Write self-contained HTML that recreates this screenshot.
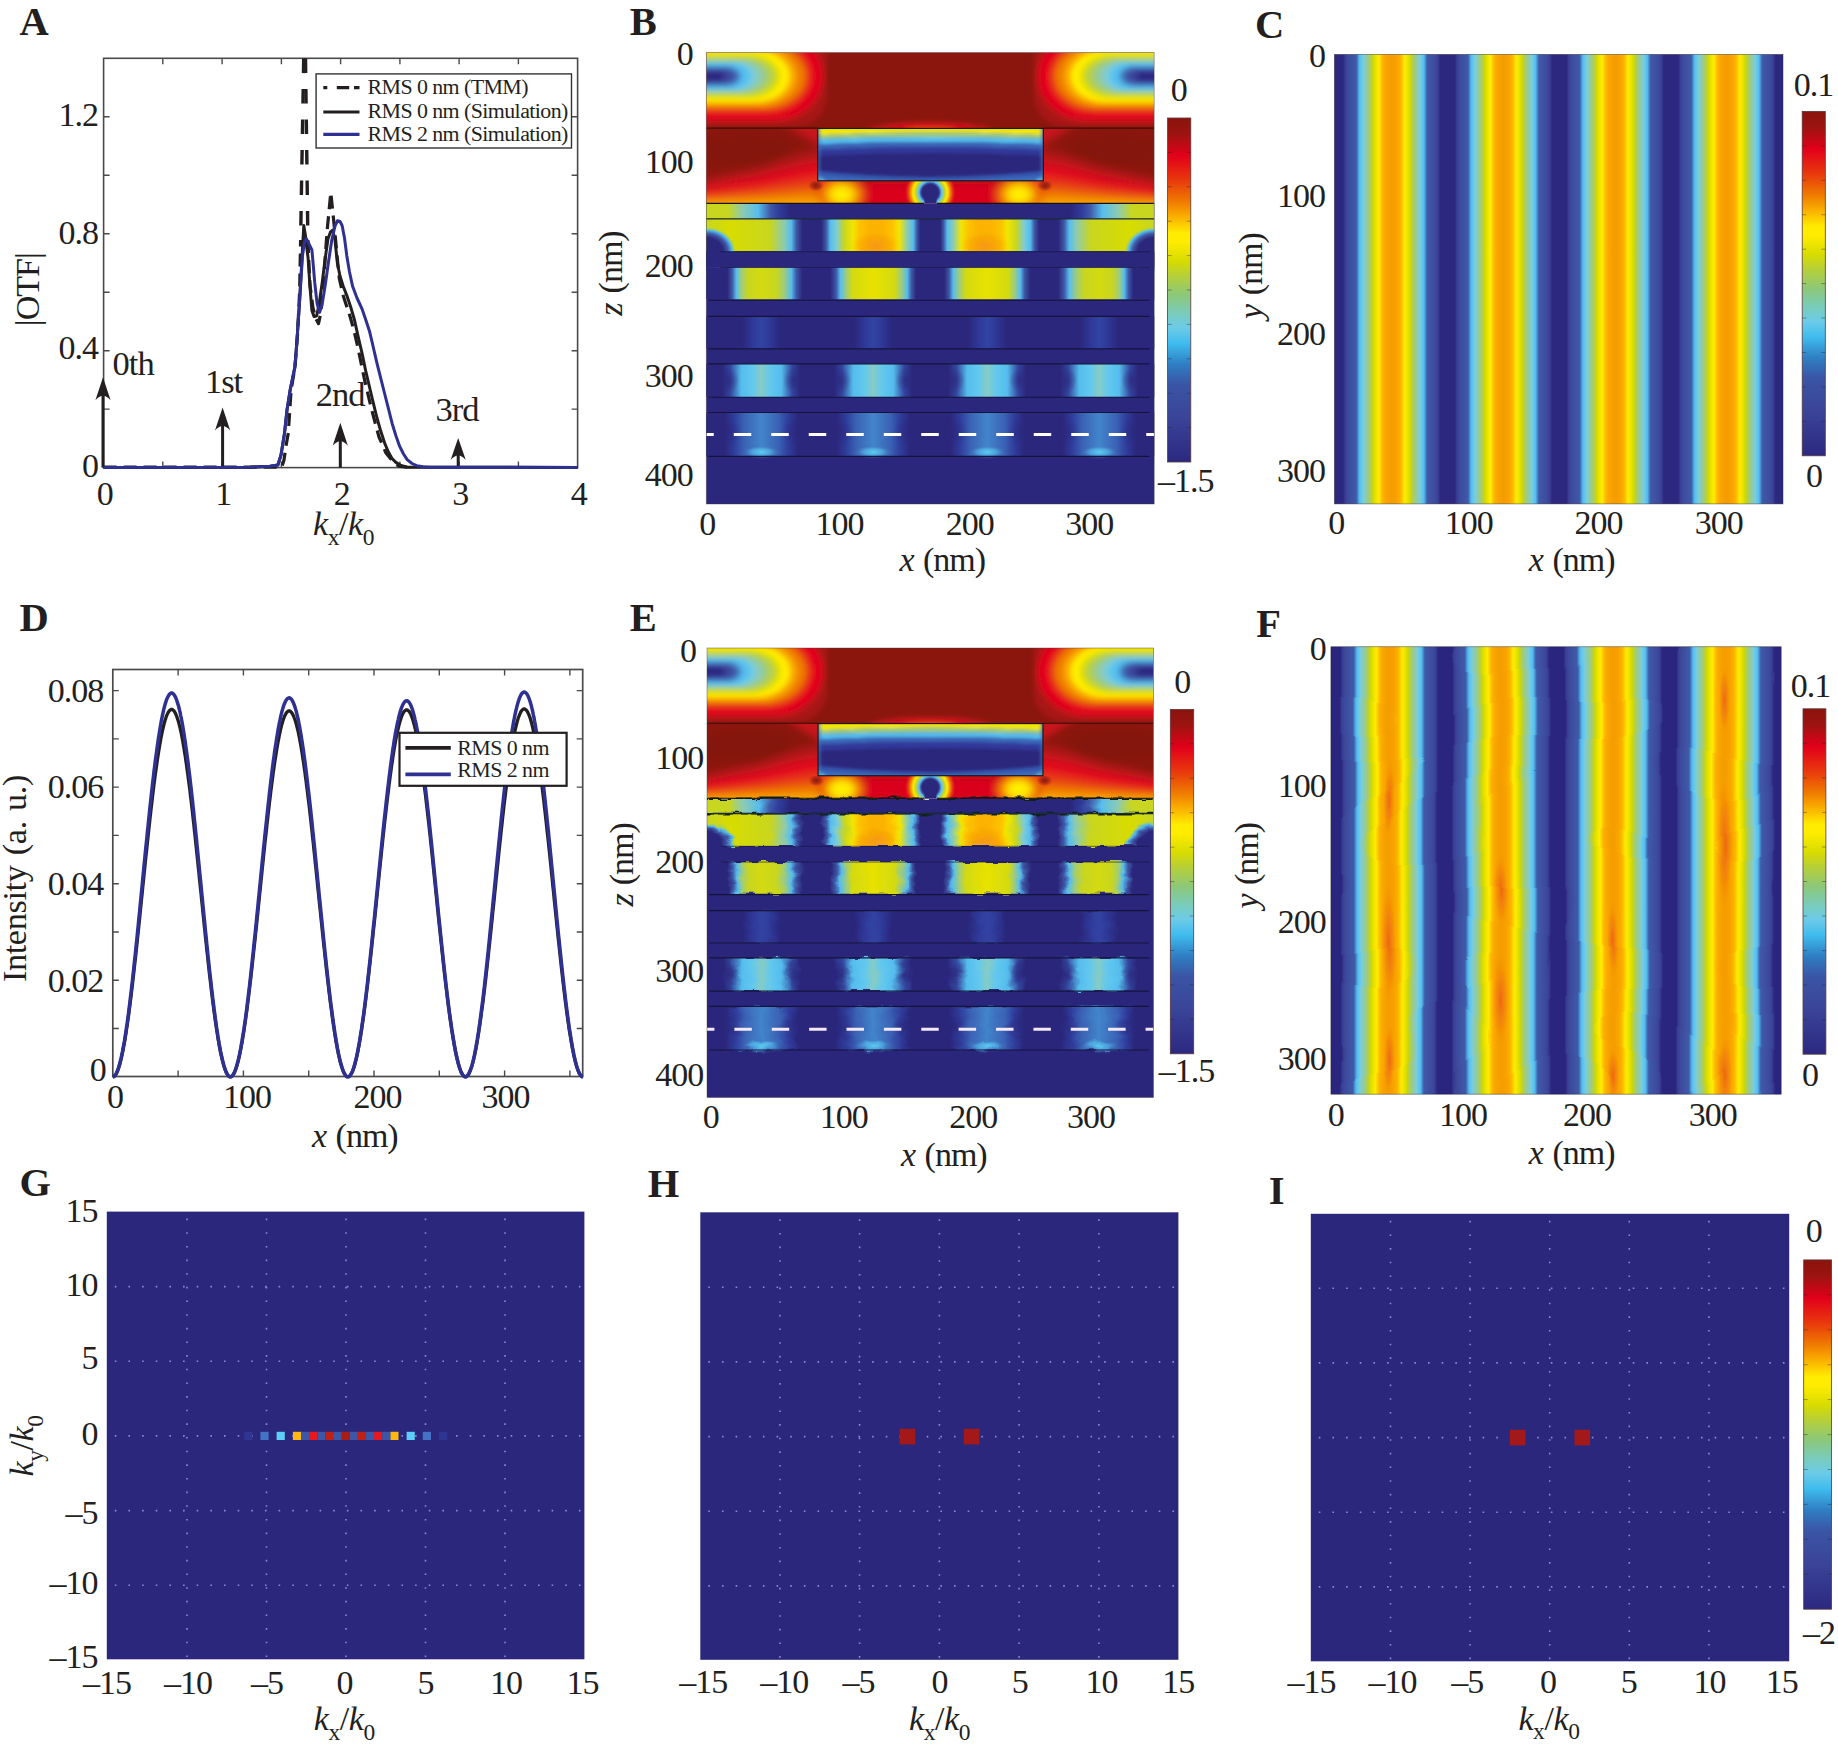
<!DOCTYPE html>
<html><head><meta charset="utf-8"><title>Figure</title>
<style>html,body{margin:0;padding:0;background:#fff}svg{display:block}text{font-family:"Liberation Serif", serif;fill:#231f20}</style>
</head><body>
<svg width="1838" height="1748" viewBox="0 0 1838 1748">
<defs>
<linearGradient id="jet" x1="0" y1="0" x2="0" y2="1"><stop offset="0" stop-color="#8a130e"/><stop offset="0.045" stop-color="#9b1410"/><stop offset="0.11" stop-color="#e2001a"/><stop offset="0.18" stop-color="#e8380d"/><stop offset="0.245" stop-color="#f07d00"/><stop offset="0.295" stop-color="#fbb900"/><stop offset="0.335" stop-color="#ffec00"/><stop offset="0.36" stop-color="#ffec00"/><stop offset="0.415" stop-color="#d8dc00"/><stop offset="0.46" stop-color="#b5cf3a"/><stop offset="0.515" stop-color="#8cc87a"/><stop offset="0.565" stop-color="#7accb8"/><stop offset="0.61" stop-color="#6ccbe8"/><stop offset="0.655" stop-color="#3fbcee"/><stop offset="0.715" stop-color="#2f7fc4"/><stop offset="0.775" stop-color="#3a55a5"/><stop offset="0.87" stop-color="#3a4498"/><stop offset="1" stop-color="#2c2880"/></linearGradient>
<linearGradient id="sC" x1="1335.85" y1="0" x2="1391.7" y2="0" gradientUnits="userSpaceOnUse" spreadMethod="reflect"><stop offset="0" stop-color="#2c2880"/><stop offset="0.13" stop-color="#2c2880"/><stop offset="0.17" stop-color="#3a3f96"/><stop offset="0.22" stop-color="#3e4a9d"/><stop offset="0.365" stop-color="#3f5aa8"/><stop offset="0.39" stop-color="#4585c6"/><stop offset="0.423" stop-color="#55bdee"/><stop offset="0.46" stop-color="#62c8ee"/><stop offset="0.493" stop-color="#7dccd8"/><stop offset="0.54" stop-color="#8dcbb0"/><stop offset="0.588" stop-color="#9fcc7c"/><stop offset="0.635" stop-color="#b8d044"/><stop offset="0.663" stop-color="#cfd800"/><stop offset="0.71" stop-color="#e8e200"/><stop offset="0.769" stop-color="#ffec00"/><stop offset="0.798" stop-color="#ffd500"/><stop offset="0.833" stop-color="#fdb800"/><stop offset="0.867" stop-color="#fbab00"/><stop offset="0.93" stop-color="#f7a100"/><stop offset="1" stop-color="#f59c00"/></linearGradient>
<linearGradient id="sF" x1="1333.3" y1="0" x2="1389.3" y2="0" gradientUnits="userSpaceOnUse" spreadMethod="reflect"><stop offset="0" stop-color="#2c2880"/><stop offset="0.13" stop-color="#2c2880"/><stop offset="0.17" stop-color="#3a3f96"/><stop offset="0.22" stop-color="#3e4a9d"/><stop offset="0.365" stop-color="#3f5aa8"/><stop offset="0.39" stop-color="#4585c6"/><stop offset="0.423" stop-color="#55bdee"/><stop offset="0.46" stop-color="#62c8ee"/><stop offset="0.493" stop-color="#7dccd8"/><stop offset="0.54" stop-color="#8dcbb0"/><stop offset="0.588" stop-color="#9fcc7c"/><stop offset="0.635" stop-color="#b8d044"/><stop offset="0.663" stop-color="#cfd800"/><stop offset="0.71" stop-color="#e8e200"/><stop offset="0.769" stop-color="#ffec00"/><stop offset="0.798" stop-color="#ffd500"/><stop offset="0.833" stop-color="#fdb800"/><stop offset="0.867" stop-color="#fbab00"/><stop offset="0.93" stop-color="#f7a100"/><stop offset="1" stop-color="#f59c00"/></linearGradient>
<clipPath id="cF"><rect x="1330.9" y="646.7" width="450.3" height="447.5"/></clipPath>
<filter id="wavy" filterUnits="userSpaceOnUse" x="1290" y="600" width="540" height="540"><feTurbulence type="fractalNoise" baseFrequency="0.008 0.016" numOctaves="1" seed="11" result="n"/><feDisplacementMap in="SourceGraphic" in2="n" scale="4.5" xChannelSelector="R" yChannelSelector="G"/></filter>
<radialGradient id="hot" cx="0.5" cy="0.5" r="0.5"><stop offset="0" stop-color="#ec5a10" stop-opacity="0.8"/><stop offset="0.55" stop-color="#f07310" stop-opacity="0.45"/><stop offset="1" stop-color="#f59c00" stop-opacity="0"/></radialGradient>
<clipPath id="hmclip"><rect x="706.3" y="52.5" width="447.9" height="451.5"/></clipPath>
<radialGradient id="boL" cx="706.3" cy="77.5" r="1" gradientUnits="userSpaceOnUse" gradientTransform="translate(706.3 77.5) scale(126 54) translate(-706.3 -77.5)"><stop offset="0" stop-color="#ffec00"/><stop offset="0.5" stop-color="#ffec00"/><stop offset="0.6" stop-color="#fdc300"/><stop offset="0.7" stop-color="#ef7d00"/><stop offset="0.8" stop-color="#e8380d"/><stop offset="0.87" stop-color="#e2001a"/><stop offset="0.94" stop-color="#b8191a"/><stop offset="1" stop-color="#8a130e"/></radialGradient>
<radialGradient id="biL" cx="706.3" cy="77.5" r="1" gradientUnits="userSpaceOnUse" gradientTransform="translate(706.3 77.5) scale(84 25) translate(-706.3 -77.5)"><stop offset="0" stop-color="#2e2b82"/><stop offset="0.22" stop-color="#3a3f96"/><stop offset="0.36" stop-color="#3f5aa8"/><stop offset="0.47" stop-color="#55bdee"/><stop offset="0.58" stop-color="#86cdb5"/><stop offset="0.72" stop-color="#c8d620"/><stop offset="0.88" stop-color="#f2e600"/><stop offset="1" stop-color="#ffec00" stop-opacity="0"/></radialGradient>
<radialGradient id="boR" cx="1154.2" cy="77.5" r="1" gradientUnits="userSpaceOnUse" gradientTransform="translate(1154.2 77.5) scale(126 54) translate(-1154.2 -77.5)"><stop offset="0" stop-color="#ffec00"/><stop offset="0.5" stop-color="#ffec00"/><stop offset="0.6" stop-color="#fdc300"/><stop offset="0.7" stop-color="#ef7d00"/><stop offset="0.8" stop-color="#e8380d"/><stop offset="0.87" stop-color="#e2001a"/><stop offset="0.94" stop-color="#b8191a"/><stop offset="1" stop-color="#8a130e"/></radialGradient>
<radialGradient id="biR" cx="1154.2" cy="77.5" r="1" gradientUnits="userSpaceOnUse" gradientTransform="translate(1154.2 77.5) scale(84 25) translate(-1154.2 -77.5)"><stop offset="0" stop-color="#2e2b82"/><stop offset="0.22" stop-color="#3a3f96"/><stop offset="0.36" stop-color="#3f5aa8"/><stop offset="0.47" stop-color="#55bdee"/><stop offset="0.58" stop-color="#86cdb5"/><stop offset="0.72" stop-color="#c8d620"/><stop offset="0.88" stop-color="#f2e600"/><stop offset="1" stop-color="#ffec00" stop-opacity="0"/></radialGradient>
<radialGradient id="arc" cx="930.25" cy="130" r="1" gradientUnits="userSpaceOnUse" gradientTransform="translate(930.25 130) scale(95 17) translate(-930.25 -130)"><stop offset="0" stop-color="#f07d00"/><stop offset="0.35" stop-color="#e2001a"/><stop offset="0.7" stop-color="#c0121a"/><stop offset="1" stop-color="#8a130e" stop-opacity="0"/></radialGradient>
<linearGradient id="sideV" x1="0" y1="0" x2="0" y2="1"><stop offset="0" stop-color="#8a130e"/><stop offset="0.42" stop-color="#8a130e"/><stop offset="0.66" stop-color="#c0121a"/><stop offset="0.8" stop-color="#e2001a"/><stop offset="0.92" stop-color="#e8380d"/><stop offset="1" stop-color="#ef7d00"/></linearGradient>
<linearGradient id="rectV" x1="0" y1="0" x2="0" y2="1"><stop offset="0" stop-color="#2f3690"/><stop offset="0.5" stop-color="#2b277c"/><stop offset="1" stop-color="#2b277c"/></linearGradient>
<linearGradient id="underV" x1="0" y1="0" x2="0" y2="1"><stop offset="0" stop-color="#c9181a"/><stop offset="0.3" stop-color="#e2001a"/><stop offset="1" stop-color="#e8271e"/></linearGradient>
<radialGradient id="yblob" cx="0.5" cy="0.5" r="0.5"><stop offset="0" stop-color="#fff000"/><stop offset="0.35" stop-color="#ffec00"/><stop offset="0.6" stop-color="#f9a800"/><stop offset="0.8" stop-color="#e8380d" stop-opacity="0.8"/><stop offset="1" stop-color="#e2001a" stop-opacity="0"/></radialGradient>
<radialGradient id="cblob" cx="0.5" cy="0.5" r="0.5"><stop offset="0" stop-color="#2b277c"/><stop offset="0.31" stop-color="#2b277c"/><stop offset="0.37" stop-color="#3f5aa8"/><stop offset="0.43" stop-color="#55bdee"/><stop offset="0.5" stop-color="#8dcbb0"/><stop offset="0.56" stop-color="#c8d620"/><stop offset="0.66" stop-color="#ffec00"/><stop offset="0.78" stop-color="#ef7d00"/><stop offset="0.9" stop-color="#e6251b" stop-opacity="0.8"/><stop offset="1" stop-color="#e2001a" stop-opacity="0"/></radialGradient>
<radialGradient id="dspot" cx="0.5" cy="0.5" r="0.5"><stop offset="0" stop-color="#80150f" stop-opacity="0.9"/><stop offset="0.5" stop-color="#8c1712" stop-opacity="0.6"/><stop offset="1" stop-color="#c0121a" stop-opacity="0"/></radialGradient>
<clipPath id="cSide"><path d="M706.3 128.4H817.7V203.6H706.3ZM1043.3 128.4H1154.2V203.6H1043.3ZM817 180.8H1044V203.6H817Z"/></clipPath>
<clipPath id="cRect"><rect x="817.7" y="128.4" width="225.6" height="52.4"/></clipPath>
<filter id="blur5" filterUnits="userSpaceOnUse" x="600" y="0" width="660" height="320"><feGaussianBlur stdDeviation="4"/></filter>
<filter id="blur3" filterUnits="userSpaceOnUse" x="600" y="0" width="660" height="320"><feGaussianBlur stdDeviation="2.8"/></filter>
<filter id="blur2" filterUnits="userSpaceOnUse" x="780" y="100" width="300" height="120"><feGaussianBlur stdDeviation="1.6"/></filter>
<clipPath id="cTop"><rect x="706.3" y="52.5" width="447.9" height="75.9"/></clipPath>
<clipPath id="cUnder"><rect x="706.3" y="181" width="447.9" height="22.6"/></clipPath>
<linearGradient id="nearL" x1="0" y1="0" x2="1" y2="0"><stop offset="0" stop-color="#e2001a" stop-opacity="0"/><stop offset="1" stop-color="#c8121a" stop-opacity="0.85"/></linearGradient>
<linearGradient id="nearR" x1="0" y1="0" x2="1" y2="0"><stop offset="0" stop-color="#c8121a" stop-opacity="0.85"/><stop offset="1" stop-color="#e2001a" stop-opacity="0"/></linearGradient>
<linearGradient id="fadeL" x1="0" y1="0" x2="1" y2="0"><stop offset="0" stop-color="#e2001a" stop-opacity="0"/><stop offset="1" stop-color="#d8081a" stop-opacity="1"/></linearGradient>
<linearGradient id="fadeR" x1="0" y1="0" x2="1" y2="0"><stop offset="0" stop-color="#d8081a" stop-opacity="1"/><stop offset="1" stop-color="#e2001a" stop-opacity="0"/></linearGradient>
<linearGradient id="rectH" x1="0" y1="0" x2="1" y2="0"><stop offset="0" stop-color="#4a7fc8" stop-opacity="0.55"/><stop offset="0.05" stop-color="#3a5db0" stop-opacity="0"/><stop offset="0.95" stop-color="#3a5db0" stop-opacity="0"/><stop offset="1" stop-color="#4a7fc8" stop-opacity="0.55"/></linearGradient>
<radialGradient id="cyc" cx="0.5" cy="0.5" r="0.5"><stop offset="0" stop-color="#b8dc6a"/><stop offset="0.5" stop-color="#55bdee" stop-opacity="0.8"/><stop offset="1" stop-color="#3f5aa8" stop-opacity="0"/></radialGradient>
<linearGradient id="band1" x1="706.3" y1="0" x2="1154.2" y2="0" gradientUnits="userSpaceOnUse"><stop offset="-0.0001" stop-color="#c8d620"/><stop offset="0.049" stop-color="#c8d620"/><stop offset="0.0803" stop-color="#8dcbb0"/><stop offset="0.116" stop-color="#55bdee"/><stop offset="0.1428" stop-color="#3f5aa8"/><stop offset="0.1606" stop-color="#2f3d9c"/><stop offset="0.1874" stop-color="#2b277c"/><stop offset="0.5" stop-color="#2b277c"/><stop offset="0.8126" stop-color="#2b277c"/><stop offset="0.8394" stop-color="#2f3d9c"/><stop offset="0.8572" stop-color="#3f5aa8"/><stop offset="0.884" stop-color="#55bdee"/><stop offset="0.9197" stop-color="#8dcbb0"/><stop offset="0.951" stop-color="#c8d620"/><stop offset="1.0001" stop-color="#c8d620"/></linearGradient>
<linearGradient id="lay1" x1="706.3" y1="0" x2="1154.2" y2="0" gradientUnits="userSpaceOnUse"><stop offset="-0.0001" stop-color="#c8d620"/><stop offset="0.0535" stop-color="#d8dc00"/><stop offset="0.1428" stop-color="#c8d620"/><stop offset="0.174" stop-color="#8dcbb0"/><stop offset="0.1897" stop-color="#55bdee"/><stop offset="0.2008" stop-color="#3f5aa8"/><stop offset="0.2142" stop-color="#2b277c"/><stop offset="0.2566" stop-color="#2b277c"/><stop offset="0.2678" stop-color="#3f5aa8"/><stop offset="0.2767" stop-color="#55bdee"/><stop offset="0.2901" stop-color="#7dccd8"/><stop offset="0.308" stop-color="#c8d620"/><stop offset="0.3281" stop-color="#f2e600"/><stop offset="0.3415" stop-color="#fdc300"/><stop offset="0.366" stop-color="#fbb200"/><stop offset="0.3928" stop-color="#fbb200"/><stop offset="0.4152" stop-color="#fdc300"/><stop offset="0.4308" stop-color="#f2e600"/><stop offset="0.4486" stop-color="#8dcbb0"/><stop offset="0.462" stop-color="#55bdee"/><stop offset="0.4699" stop-color="#3f5aa8"/><stop offset="0.4777" stop-color="#2b277c"/><stop offset="0.5" stop-color="#2b277c"/><stop offset="0.5223" stop-color="#2b277c"/><stop offset="0.5301" stop-color="#3f5aa8"/><stop offset="0.538" stop-color="#55bdee"/><stop offset="0.5514" stop-color="#8dcbb0"/><stop offset="0.5692" stop-color="#f2e600"/><stop offset="0.5848" stop-color="#fdc300"/><stop offset="0.6072" stop-color="#fbb200"/><stop offset="0.634" stop-color="#fbb200"/><stop offset="0.6585" stop-color="#fdc300"/><stop offset="0.6719" stop-color="#f2e600"/><stop offset="0.692" stop-color="#c8d620"/><stop offset="0.7099" stop-color="#7dccd8"/><stop offset="0.7233" stop-color="#55bdee"/><stop offset="0.7322" stop-color="#3f5aa8"/><stop offset="0.7434" stop-color="#2b277c"/><stop offset="0.7858" stop-color="#2b277c"/><stop offset="0.7992" stop-color="#3f5aa8"/><stop offset="0.8103" stop-color="#55bdee"/><stop offset="0.826" stop-color="#8dcbb0"/><stop offset="0.8572" stop-color="#c8d620"/><stop offset="0.9465" stop-color="#d8dc00"/><stop offset="1.0001" stop-color="#c8d620"/></linearGradient>
<linearGradient id="lay2" x1="706.3" y1="0" x2="1154.2" y2="0" gradientUnits="userSpaceOnUse"><stop offset="-0.0001" stop-color="#2b277c"/><stop offset="0.0468" stop-color="#2b277c"/><stop offset="0.0579" stop-color="#3f5aa8"/><stop offset="0.0669" stop-color="#55bdee"/><stop offset="0.078" stop-color="#9fcc7c"/><stop offset="0.0937" stop-color="#c8d620"/><stop offset="0.1227" stop-color="#d4da10"/><stop offset="0.1562" stop-color="#c8d620"/><stop offset="0.174" stop-color="#9fcc7c"/><stop offset="0.1897" stop-color="#55bdee"/><stop offset="0.2008" stop-color="#3f5aa8"/><stop offset="0.2142" stop-color="#2b277c"/><stop offset="0.2767" stop-color="#2b277c"/><stop offset="0.2901" stop-color="#3f5aa8"/><stop offset="0.2991" stop-color="#55bdee"/><stop offset="0.3125" stop-color="#9fcc7c"/><stop offset="0.3259" stop-color="#d4da10"/><stop offset="0.3727" stop-color="#e8e200"/><stop offset="0.4196" stop-color="#d4da10"/><stop offset="0.4353" stop-color="#9fcc7c"/><stop offset="0.4486" stop-color="#55bdee"/><stop offset="0.4576" stop-color="#3f5aa8"/><stop offset="0.4687" stop-color="#2b277c"/><stop offset="0.5" stop-color="#2b277c"/><stop offset="0.5313" stop-color="#2b277c"/><stop offset="0.5424" stop-color="#3f5aa8"/><stop offset="0.5514" stop-color="#55bdee"/><stop offset="0.5647" stop-color="#9fcc7c"/><stop offset="0.5804" stop-color="#d4da10"/><stop offset="0.6273" stop-color="#e8e200"/><stop offset="0.6741" stop-color="#d4da10"/><stop offset="0.6875" stop-color="#9fcc7c"/><stop offset="0.7009" stop-color="#55bdee"/><stop offset="0.7099" stop-color="#3f5aa8"/><stop offset="0.7233" stop-color="#2b277c"/><stop offset="0.7858" stop-color="#2b277c"/><stop offset="0.7992" stop-color="#3f5aa8"/><stop offset="0.8103" stop-color="#55bdee"/><stop offset="0.826" stop-color="#9fcc7c"/><stop offset="0.8438" stop-color="#c8d620"/><stop offset="0.8773" stop-color="#d4da10"/><stop offset="0.9063" stop-color="#c8d620"/><stop offset="0.922" stop-color="#9fcc7c"/><stop offset="0.9331" stop-color="#55bdee"/><stop offset="0.9421" stop-color="#3f5aa8"/><stop offset="0.9532" stop-color="#2b277c"/><stop offset="1.0001" stop-color="#2b277c"/></linearGradient>
<linearGradient id="lay3" x1="706.3" y1="0" x2="1154.2" y2="0" gradientUnits="userSpaceOnUse"><stop offset="-0.0001" stop-color="#2b277c"/><stop offset="0.0803" stop-color="#2b277c"/><stop offset="0.1071" stop-color="#2f3b9b"/><stop offset="0.1227" stop-color="#3243a2"/><stop offset="0.1383" stop-color="#2f3b9b"/><stop offset="0.1651" stop-color="#2b277c"/><stop offset="0.3303" stop-color="#2b277c"/><stop offset="0.3571" stop-color="#2f3b9b"/><stop offset="0.3727" stop-color="#3243a2"/><stop offset="0.3884" stop-color="#2f3b9b"/><stop offset="0.4152" stop-color="#2b277c"/><stop offset="0.5" stop-color="#2b277c"/><stop offset="0.5848" stop-color="#2b277c"/><stop offset="0.6116" stop-color="#2f3b9b"/><stop offset="0.6273" stop-color="#3243a2"/><stop offset="0.6429" stop-color="#2f3b9b"/><stop offset="0.6697" stop-color="#2b277c"/><stop offset="0.8349" stop-color="#2b277c"/><stop offset="0.8617" stop-color="#2f3b9b"/><stop offset="0.8773" stop-color="#3243a2"/><stop offset="0.8929" stop-color="#2f3b9b"/><stop offset="0.9197" stop-color="#2b277c"/><stop offset="1.0001" stop-color="#2b277c"/></linearGradient>
<linearGradient id="lay4" x1="706.3" y1="0" x2="1154.2" y2="0" gradientUnits="userSpaceOnUse"><stop offset="-0.0001" stop-color="#2b277c"/><stop offset="0.0356" stop-color="#2b277c"/><stop offset="0.0535" stop-color="#33459f"/><stop offset="0.0669" stop-color="#4585c6"/><stop offset="0.078" stop-color="#55bdee"/><stop offset="0.1026" stop-color="#62c8ee"/><stop offset="0.1227" stop-color="#86ccc4"/><stop offset="0.1428" stop-color="#62c8ee"/><stop offset="0.1673" stop-color="#55bdee"/><stop offset="0.1785" stop-color="#4585c6"/><stop offset="0.1919" stop-color="#33459f"/><stop offset="0.2098" stop-color="#2b277c"/><stop offset="0.2857" stop-color="#2b277c"/><stop offset="0.3035" stop-color="#33459f"/><stop offset="0.3169" stop-color="#4585c6"/><stop offset="0.3281" stop-color="#55bdee"/><stop offset="0.3526" stop-color="#62c8ee"/><stop offset="0.3727" stop-color="#86ccc4"/><stop offset="0.3928" stop-color="#62c8ee"/><stop offset="0.4174" stop-color="#55bdee"/><stop offset="0.4286" stop-color="#4585c6"/><stop offset="0.442" stop-color="#33459f"/><stop offset="0.4598" stop-color="#2b277c"/><stop offset="0.5" stop-color="#2b277c"/><stop offset="0.5402" stop-color="#2b277c"/><stop offset="0.558" stop-color="#33459f"/><stop offset="0.5714" stop-color="#4585c6"/><stop offset="0.5826" stop-color="#55bdee"/><stop offset="0.6072" stop-color="#62c8ee"/><stop offset="0.6273" stop-color="#86ccc4"/><stop offset="0.6474" stop-color="#62c8ee"/><stop offset="0.6719" stop-color="#55bdee"/><stop offset="0.6831" stop-color="#4585c6"/><stop offset="0.6965" stop-color="#33459f"/><stop offset="0.7143" stop-color="#2b277c"/><stop offset="0.7902" stop-color="#2b277c"/><stop offset="0.8081" stop-color="#33459f"/><stop offset="0.8215" stop-color="#4585c6"/><stop offset="0.8327" stop-color="#55bdee"/><stop offset="0.8572" stop-color="#62c8ee"/><stop offset="0.8773" stop-color="#86ccc4"/><stop offset="0.8974" stop-color="#62c8ee"/><stop offset="0.922" stop-color="#55bdee"/><stop offset="0.9331" stop-color="#4585c6"/><stop offset="0.9465" stop-color="#33459f"/><stop offset="0.9644" stop-color="#2b277c"/><stop offset="1.0001" stop-color="#2b277c"/></linearGradient>
<linearGradient id="lay5" x1="706.3" y1="0" x2="1154.2" y2="0" gradientUnits="userSpaceOnUse"><stop offset="-0.0001" stop-color="#2b277c"/><stop offset="0.0401" stop-color="#2b277c"/><stop offset="0.0624" stop-color="#2f3d9c"/><stop offset="0.0847" stop-color="#3a62b5"/><stop offset="0.1227" stop-color="#4285cc"/><stop offset="0.1606" stop-color="#3a62b5"/><stop offset="0.183" stop-color="#2f3d9c"/><stop offset="0.2053" stop-color="#2b277c"/><stop offset="0.2901" stop-color="#2b277c"/><stop offset="0.3125" stop-color="#2f3d9c"/><stop offset="0.3348" stop-color="#3a62b5"/><stop offset="0.3727" stop-color="#4285cc"/><stop offset="0.4107" stop-color="#3a62b5"/><stop offset="0.433" stop-color="#2f3d9c"/><stop offset="0.4553" stop-color="#2b277c"/><stop offset="0.5" stop-color="#2b277c"/><stop offset="0.5447" stop-color="#2b277c"/><stop offset="0.567" stop-color="#2f3d9c"/><stop offset="0.5893" stop-color="#3a62b5"/><stop offset="0.6273" stop-color="#4285cc"/><stop offset="0.6652" stop-color="#3a62b5"/><stop offset="0.6875" stop-color="#2f3d9c"/><stop offset="0.7099" stop-color="#2b277c"/><stop offset="0.7947" stop-color="#2b277c"/><stop offset="0.817" stop-color="#2f3d9c"/><stop offset="0.8394" stop-color="#3a62b5"/><stop offset="0.8773" stop-color="#4285cc"/><stop offset="0.9153" stop-color="#3a62b5"/><stop offset="0.9376" stop-color="#2f3d9c"/><stop offset="0.9599" stop-color="#2b277c"/><stop offset="1.0001" stop-color="#2b277c"/></linearGradient>
<radialGradient id="oblob" cx="0.5" cy="0.5" r="0.5"><stop offset="0" stop-color="#f7941d" stop-opacity="0.9"/><stop offset="0.6" stop-color="#f7a100" stop-opacity="0.5"/><stop offset="1" stop-color="#fdc300" stop-opacity="0"/></radialGradient>
<radialGradient id="cornerB" cx="0.5" cy="0.5" r="0.5"><stop offset="0" stop-color="#2b277c"/><stop offset="0.55" stop-color="#2b277c"/><stop offset="0.72" stop-color="#3f5aa8"/><stop offset="0.86" stop-color="#55bdee"/><stop offset="1" stop-color="#c8d620" stop-opacity="0"/></radialGradient>
<radialGradient id="cyspot" cx="0.5" cy="0.5" r="0.5"><stop offset="0" stop-color="#5fd0f0" stop-opacity="0.95"/><stop offset="0.5" stop-color="#55bdee" stop-opacity="0.6"/><stop offset="1" stop-color="#3f5aa8" stop-opacity="0"/></radialGradient>
<radialGradient id="navpinch" cx="0.5" cy="0.5" r="0.5"><stop offset="0" stop-color="#2b277c" stop-opacity="0.7"/><stop offset="0.5" stop-color="#2b277c" stop-opacity="0.35"/><stop offset="1" stop-color="#2b277c" stop-opacity="0"/></radialGradient>
<linearGradient id="l1top" x1="0" y1="0" x2="0" y2="1"><stop offset="0" stop-color="#f2e600" stop-opacity="0.55"/><stop offset="0.4" stop-color="#f2e600" stop-opacity="0"/></linearGradient>
<g id="hmTop"><rect x="706.3" y="52.5" width="447.9" height="151" fill="#8a130e"/>
<g clip-path="url(#cTop)"><g filter="url(#blur3)">
<rect x="646.3" y="-7.5" width="567.9" height="260" fill="#8a130e"/>
<path d="M646.3 26.299999999999997H796.5A30 30 0 0 1 826.5 56.3V96.3A30 30 0 0 1 796.5 126.3H646.3Z" fill="#a81318"/>
<path d="M646.3 30.0H774.6A49.4 46.3 0 0 1 774.6 122.6H646.3Z" fill="#c8121a"/>
<path d="M646.3 33.3H773.1A48.4 43 0 0 1 773.1 119.3H646.3Z" fill="#e2001a"/>
<path d="M646.3 38.8H768.2A44.8 37.5 0 0 1 768.2 113.8H646.3Z" fill="#e6251b"/>
<path d="M646.3 41.699999999999996H765.9A43.1 34.6 0 0 1 765.9 110.9H646.3Z" fill="#e84e0f"/>
<path d="M646.3 44.4H763.5A41.5 31.9 0 0 1 763.5 108.19999999999999H646.3Z" fill="#ef7d00"/>
<path d="M646.3 47.0H758.9A38.1 29.3 0 0 1 758.9 105.6H646.3Z" fill="#f9a800"/>
<path d="M646.3 50.3H754.8A35.2 26 0 0 1 754.8 102.3H646.3Z" fill="#ffec00"/>
<path d="M646.3 54.3H749.0A31.0 22 0 0 1 749.0 98.3H646.3Z" fill="#d8dc00"/>
<path d="M646.3 57.3H746.1A28.9 19 0 0 1 746.1 95.3H646.3Z" fill="#b8d044"/>
<path d="M646.3 59.3H742.7A26.3 17 0 0 1 742.7 93.3H646.3Z" fill="#9fcc7c"/>
<path d="M646.3 60.699999999999996H739.2A23.8 15.6 0 0 1 739.2 91.89999999999999H646.3Z" fill="#8dcbb0"/>
<path d="M646.3 61.8H735.7A21.3 14.5 0 0 1 735.7 90.8H646.3Z" fill="#7dccd8"/>
<path d="M646.3 62.699999999999996H732.8A19.2 13.6 0 0 1 732.8 89.89999999999999H646.3Z" fill="#62c8ee"/>
<path d="M646.3 63.5H730.5A17.5 12.8 0 0 1 730.5 89.1H646.3Z" fill="#55bdee"/>
<path d="M646.3 66.1H726.4A14.6 10.2 0 0 1 726.4 86.5H646.3Z" fill="#4585c6"/>
<path d="M646.3 68.1H724.1A12.9 8.2 0 0 1 724.1 84.5H646.3Z" fill="#3f5aa8"/>
<path d="M646.3 69.7H721.8A11.2 6.6 0 0 1 721.8 82.89999999999999H646.3Z" fill="#3e4a9d"/>
<path d="M646.3 70.89999999999999H719.5A9.5 5.4 0 0 1 719.5 81.7H646.3Z" fill="#3a3f96"/>
<path d="M646.3 72.1H716.6A7.4 4.2 0 0 1 716.6 80.5H646.3Z" fill="#2c2880"/>
<path d="M1214.2 26.299999999999997H1064.0A30 30 0 0 0 1034.0 56.3V96.3A30 30 0 0 0 1064.0 126.3H1214.2Z" fill="#a81318"/>
<path d="M1214.2 30.0H1085.9A49.4 46.3 0 0 0 1085.9 122.6H1214.2Z" fill="#c8121a"/>
<path d="M1214.2 33.3H1087.4A48.4 43 0 0 0 1087.4 119.3H1214.2Z" fill="#e2001a"/>
<path d="M1214.2 38.8H1092.3A44.8 37.5 0 0 0 1092.3 113.8H1214.2Z" fill="#e6251b"/>
<path d="M1214.2 41.699999999999996H1094.6A43.1 34.6 0 0 0 1094.6 110.9H1214.2Z" fill="#e84e0f"/>
<path d="M1214.2 44.4H1097.0A41.5 31.9 0 0 0 1097.0 108.19999999999999H1214.2Z" fill="#ef7d00"/>
<path d="M1214.2 47.0H1101.6A38.1 29.3 0 0 0 1101.6 105.6H1214.2Z" fill="#f9a800"/>
<path d="M1214.2 50.3H1105.7A35.2 26 0 0 0 1105.7 102.3H1214.2Z" fill="#ffec00"/>
<path d="M1214.2 54.3H1111.5A31.0 22 0 0 0 1111.5 98.3H1214.2Z" fill="#d8dc00"/>
<path d="M1214.2 57.3H1114.4A28.9 19 0 0 0 1114.4 95.3H1214.2Z" fill="#b8d044"/>
<path d="M1214.2 59.3H1117.8A26.3 17 0 0 0 1117.8 93.3H1214.2Z" fill="#9fcc7c"/>
<path d="M1214.2 60.699999999999996H1121.3A23.8 15.6 0 0 0 1121.3 91.89999999999999H1214.2Z" fill="#8dcbb0"/>
<path d="M1214.2 61.8H1124.8A21.3 14.5 0 0 0 1124.8 90.8H1214.2Z" fill="#7dccd8"/>
<path d="M1214.2 62.699999999999996H1127.7A19.2 13.6 0 0 0 1127.7 89.89999999999999H1214.2Z" fill="#62c8ee"/>
<path d="M1214.2 63.5H1130.0A17.5 12.8 0 0 0 1130.0 89.1H1214.2Z" fill="#55bdee"/>
<path d="M1214.2 66.1H1134.1A14.6 10.2 0 0 0 1134.1 86.5H1214.2Z" fill="#4585c6"/>
<path d="M1214.2 68.1H1136.4A12.9 8.2 0 0 0 1136.4 84.5H1214.2Z" fill="#3f5aa8"/>
<path d="M1214.2 69.7H1138.7A11.2 6.6 0 0 0 1138.7 82.89999999999999H1214.2Z" fill="#3e4a9d"/>
<path d="M1214.2 70.89999999999999H1141.0A9.5 5.4 0 0 0 1141.0 81.7H1214.2Z" fill="#3a3f96"/>
<path d="M1214.2 72.1H1143.9A7.4 4.2 0 0 0 1143.9 80.5H1214.2Z" fill="#2c2880"/>
<ellipse cx="930.25" cy="131" rx="62" ry="9" fill="#c0121a"/><ellipse cx="930.25" cy="131" rx="44" ry="6" fill="#e2001a"/><ellipse cx="930.25" cy="131" rx="26" ry="3.5" fill="#e84e0f"/>
</g></g>
<g clip-path="url(#cSide)"><g filter="url(#blur5)">
<rect x="646.3" y="70" width="567.9" height="200" fill="#8a130e"/>
<path d="M640.0 178 L706.0 178 L760.0 166 L800.0 152 L838.0 143 L838.0 240 L640.0 240Z" fill="#a81318"/>
<path d="M640.0 183 L706.0 183 L760.0 172 L800.0 160 L838.0 152 L838.0 240 L640.0 240Z" fill="#c8121a"/>
<path d="M640.0 188 L706.0 188 L760.0 178 L800.0 168 L838.0 162 L838.0 240 L640.0 240Z" fill="#e2001a"/>
<path d="M640.0 192.5 L706.0 192.5 L760.0 184.5 L800.0 176 L838.0 170 L838.0 240 L640.0 240Z" fill="#e6251b"/>
<path d="M640.0 196 L706.0 196 L760.0 190 L800.0 184 L838.0 181 L838.0 240 L640.0 240Z" fill="#e84e0f"/>
<path d="M640.0 199 L706.0 199 L760.0 195.5 L800.0 191.5 L838.0 190 L838.0 240 L640.0 240Z" fill="#ef7d00"/>
<path d="M640.0 201.8 L706.0 201.8 L760.0 200.8 L800.0 199.5 L838.0 199 L838.0 240 L640.0 240Z" fill="#f9a800"/>
<path d="M778 120H830V152Z" fill="#c8121a"/>
<ellipse cx="745" cy="150" rx="45" ry="14" fill="#84120c"/>
<path d="M1220.5 178 L1154.5 178 L1100.5 166 L1060.5 152 L1022.5 143 L1022.5 240 L1220.5 240Z" fill="#a81318"/>
<path d="M1220.5 183 L1154.5 183 L1100.5 172 L1060.5 160 L1022.5 152 L1022.5 240 L1220.5 240Z" fill="#c8121a"/>
<path d="M1220.5 188 L1154.5 188 L1100.5 178 L1060.5 168 L1022.5 162 L1022.5 240 L1220.5 240Z" fill="#e2001a"/>
<path d="M1220.5 192.5 L1154.5 192.5 L1100.5 184.5 L1060.5 176 L1022.5 170 L1022.5 240 L1220.5 240Z" fill="#e6251b"/>
<path d="M1220.5 196 L1154.5 196 L1100.5 190 L1060.5 184 L1022.5 181 L1022.5 240 L1220.5 240Z" fill="#e84e0f"/>
<path d="M1220.5 199 L1154.5 199 L1100.5 195.5 L1060.5 191.5 L1022.5 190 L1022.5 240 L1220.5 240Z" fill="#ef7d00"/>
<path d="M1220.5 201.8 L1154.5 201.8 L1100.5 200.8 L1060.5 199.5 L1022.5 199 L1022.5 240 L1220.5 240Z" fill="#f9a800"/>
<path d="M1082.5 120H1030.5V152Z" fill="#c8121a"/>
<ellipse cx="1115.5" cy="150" rx="45" ry="14" fill="#84120c"/>
<rect x="856" y="170" width="148.5" height="60" fill="#da061a"/>
<rect x="850" y="170" width="160.5" height="14" fill="#bc0e18"/>
<ellipse cx="841.5" cy="194.5" rx="24" ry="17" fill="#e84e0f"/>
<ellipse cx="841.5" cy="194.5" rx="20" ry="14.5" fill="#ef7d00"/>
<ellipse cx="841.5" cy="194.5" rx="16" ry="12" fill="#f9a800"/>
<ellipse cx="841.5" cy="194.5" rx="12" ry="9" fill="#ffec00"/>
<ellipse cx="841.5" cy="194.5" rx="7" ry="5" fill="#fff000"/>
<ellipse cx="1019.0" cy="194.5" rx="24" ry="17" fill="#e84e0f"/>
<ellipse cx="1019.0" cy="194.5" rx="20" ry="14.5" fill="#ef7d00"/>
<ellipse cx="1019.0" cy="194.5" rx="16" ry="12" fill="#f9a800"/>
<ellipse cx="1019.0" cy="194.5" rx="12" ry="9" fill="#ffec00"/>
<ellipse cx="1019.0" cy="194.5" rx="7" ry="5" fill="#fff000"/>
</g></g>
<g clip-path="url(#cUnder)">
<circle cx="930.25" cy="192.5" r="26" fill="url(#cblob)"/>
<rect x="924.5" y="196" width="12" height="9" fill="#2b277c"/>
<ellipse cx="816" cy="185.5" rx="8" ry="6" fill="url(#dspot)"/>
<ellipse cx="1045" cy="185.5" rx="8" ry="6" fill="url(#dspot)"/>
</g>
<rect x="817.7" y="128.4" width="225.6" height="52.4" fill="url(#rectV)"/>
<g clip-path="url(#cRect)"><g filter="url(#blur2)">
<path d="M810 127V135.6Q930.25 129 1051 135.6V127Z" fill="#f2e600"/>
<path d="M810 135.6Q930.25 129 1051 135.6V139.2Q930.25 134.8 810 139.2Z" fill="#9fcc7c"/>
<path d="M810 139.2Q930.25 134.8 1051 139.2V144.5Q930.25 139.5 810 144.5Z" fill="#55bdee"/>
<path d="M810 144.5Q930.25 139.5 1051 144.5V150Q930.25 144 810 150Z" fill="#3a63b5"/>
<path d="M810 150Q930.25 144 1051 150V156Q930.25 150 810 156Z" fill="#30399a"/>
<path d="M810 185V170Q930.25 184 1051 170V185Z" fill="#3556ad"/>
<path d="M810 185V175Q930.25 186 1051 175V185Z" fill="#3d6cbd"/>
<path d="M812 186V171L832 186Z" fill="#55bdee"/><path d="M1049 186V171L1029 186Z" fill="#55bdee"/>
<path d="M814 184V176L824 184Z" fill="#d0dc3a"/><path d="M1047 184V176L1037 184Z" fill="#d0dc3a"/>
<rect x="812" y="125" width="8.5" height="60" fill="#3f6fbe" fill-opacity="0.6"/><rect x="1040.5" y="125" width="8.5" height="60" fill="#3f6fbe" fill-opacity="0.6"/>
</g></g>
<rect x="817.7" y="128.4" width="225.6" height="52.4" fill="none" stroke="#15151a" stroke-width="1.1"/>
<path d="M706.3 128.1H817.7M1043.3 128.1H1154.2" stroke="#3a0c0a" stroke-width="1.1" fill="none"/></g>
<g id="hmLay"><rect x="666.3" y="203" width="527.9" height="341" fill="#2b277c"/>
<rect x="666.3" y="203.4" width="527.9" height="15.5" fill="url(#band1)"/>
<rect x="666.3" y="218.9" width="527.9" height="32.6" fill="url(#lay1)"/>
<ellipse cx="875.75" cy="246" rx="26" ry="17" fill="url(#oblob)"/>
<ellipse cx="984.75" cy="246" rx="26" ry="17" fill="url(#oblob)"/>
<rect x="666.3" y="251.5" width="527.9" height="16" fill="#2b277c"/>
<ellipse cx="706.3" cy="251.5" rx="30" ry="25" fill="url(#cornerB)"/><ellipse cx="1154.2" cy="251.5" rx="30" ry="25" fill="url(#cornerB)"/>
<rect x="666.3" y="251.5" width="527.9" height="16" fill="#2b277c"/>
<rect x="666.3" y="267.5" width="527.9" height="31.8" fill="url(#lay2)"/>
<rect x="666.3" y="316.3" width="527.9" height="32.5" fill="url(#lay3)"/>
<rect x="666.3" y="363.8" width="527.9" height="33.2" fill="url(#lay4)"/>
<rect x="666.3" y="412.5" width="527.9" height="43.8" fill="url(#lay5)"/>
<ellipse cx="728.2" cy="380.4" rx="11" ry="13" fill="url(#navpinch)"/>
<ellipse cx="725.2" cy="432" rx="17" ry="15" fill="url(#navpinch)"/>
<ellipse cx="794.2" cy="380.4" rx="11" ry="13" fill="url(#navpinch)"/>
<ellipse cx="797.2" cy="432" rx="17" ry="15" fill="url(#navpinch)"/>
<ellipse cx="761.2" cy="452" rx="20" ry="7" fill="url(#cyspot)"/>
<ellipse cx="840.2" cy="380.4" rx="11" ry="13" fill="url(#navpinch)"/>
<ellipse cx="837.2" cy="432" rx="17" ry="15" fill="url(#navpinch)"/>
<ellipse cx="906.2" cy="380.4" rx="11" ry="13" fill="url(#navpinch)"/>
<ellipse cx="909.2" cy="432" rx="17" ry="15" fill="url(#navpinch)"/>
<ellipse cx="873.2" cy="452" rx="20" ry="7" fill="url(#cyspot)"/>
<ellipse cx="954.2" cy="380.4" rx="11" ry="13" fill="url(#navpinch)"/>
<ellipse cx="951.2" cy="432" rx="17" ry="15" fill="url(#navpinch)"/>
<ellipse cx="1020.2" cy="380.4" rx="11" ry="13" fill="url(#navpinch)"/>
<ellipse cx="1023.2" cy="432" rx="17" ry="15" fill="url(#navpinch)"/>
<ellipse cx="987.2" cy="452" rx="20" ry="7" fill="url(#cyspot)"/>
<ellipse cx="1066.2" cy="380.4" rx="11" ry="13" fill="url(#navpinch)"/>
<ellipse cx="1063.2" cy="432" rx="17" ry="15" fill="url(#navpinch)"/>
<ellipse cx="1132.2" cy="380.4" rx="11" ry="13" fill="url(#navpinch)"/>
<ellipse cx="1135.2" cy="432" rx="17" ry="15" fill="url(#navpinch)"/>
<ellipse cx="1099.2" cy="452" rx="20" ry="7" fill="url(#cyspot)"/></g>
<g id="hmLines"><path d="M706.3 203.4H924M937 203.4H1154.2" stroke="#1a1010" stroke-width="1.2" fill="none"/>
<path d="M706.3 218.9H1154.2" stroke="#1c2a3a" stroke-width="1.1" fill="none"/>
<path d="M708.3 300.2H1149.5M708.3 316.3H1149.5M708.3 348.8H1149.5M708.3 363.8H1149.5M708.3 397.2H1149.5M708.3 412.5H1149.5M708.3 456.3H1149.5" stroke="#14143a" stroke-width="1.15" fill="none"/>
<path d="M720.3 251.7H1150M720.3 267.5H1150" stroke="#14143a" stroke-width="0.9" stroke-opacity="0.7" fill="none"/></g>
<filter id="rough" filterUnits="userSpaceOnUse" x="660" y="180" width="540" height="370"><feTurbulence type="fractalNoise" baseFrequency="0.07 0.11" numOctaves="2" seed="7" result="n"/><feDisplacementMap in="SourceGraphic" in2="n" scale="7" xChannelSelector="R" yChannelSelector="G"/></filter>
</defs>
<rect width="1838" height="1748" fill="#fff"/>
<text x="19.6" y="34.6" font-size="40.5" font-weight="bold">A</text>
<text x="629.8" y="34.6" font-size="40.5" font-weight="bold">B</text>
<text x="1255" y="38.2" font-size="40.5" font-weight="bold">C</text>
<text x="19.6" y="630.8" font-size="40.5" font-weight="bold">D</text>
<text x="629.8" y="630.8" font-size="40.5" font-weight="bold">E</text>
<text x="1256.3" y="636.5" font-size="40.5" font-weight="bold">F</text>
<text x="19.6" y="1196.1" font-size="40.5" font-weight="bold">G</text>
<text x="647.7" y="1196.9" font-size="40.5" font-weight="bold">H</text>
<text x="1268.7" y="1203.7" font-size="40.5" font-weight="bold">I</text>
<rect x="103.6" y="58.3" width="474.0" height="409.3" fill="none" stroke="#4a4a4c" stroke-width="1.6"/>
<path d="M162.8 58.3v6M162.8 467.6v-6M222.1 58.3v6M222.1 467.6v-6M281.4 58.3v6M281.4 467.6v-6M340.6 58.3v6M340.6 467.6v-6M399.9 58.3v6M399.9 467.6v-6M459.1 58.3v6M459.1 467.6v-6M518.4 58.3v6M518.4 467.6v-6M103.6 409.1h6M577.6 409.1h-6M103.6 350.7h6M577.6 350.7h-6M103.6 292.2h6M577.6 292.2h-6M103.6 233.7h6M577.6 233.7h-6M103.6 175.2h6M577.6 175.2h-6M103.6 116.8h6M577.6 116.8h-6" stroke="#4a4a4c" stroke-width="1.4" fill="none"/>
<text x="97.9" y="477.4" font-size="34.0" text-anchor="end" letter-spacing="-1.0">0</text>
<text x="97.9" y="359.4" font-size="34.0" text-anchor="end" letter-spacing="-1.0">0.4</text>
<text x="97.9" y="243.8" font-size="34.0" text-anchor="end" letter-spacing="-1.0">0.8</text>
<text x="97.9" y="126.0" font-size="34.0" text-anchor="end" letter-spacing="-1.0">1.2</text>
<text x="104.8" y="505.3" font-size="34.0" text-anchor="middle" letter-spacing="-1.0">0</text>
<text x="223.3" y="505.3" font-size="34.0" text-anchor="middle" letter-spacing="-1.0">1</text>
<text x="341.8" y="505.3" font-size="34.0" text-anchor="middle" letter-spacing="-1.0">2</text>
<text x="460.3" y="505.3" font-size="34.0" text-anchor="middle" letter-spacing="-1.0">3</text>
<text x="578.8" y="505.3" font-size="34.0" text-anchor="middle" letter-spacing="-1.0">4</text>
<text x="39.5" y="289.7" font-size="34.0" text-anchor="middle" transform="rotate(-90 39.5 289.7)" letter-spacing="-1.0">|OTF|</text>
<text x="313.0" y="535" font-size="34.0" letter-spacing="-0.4"><tspan font-style="italic">k</tspan><tspan font-size="23.5" dy="9.7">x</tspan><tspan dy="-9.7">/</tspan><tspan font-style="italic">k</tspan><tspan font-size="23.5" dy="9.7">0</tspan></text>
<path d="M103.0 467.6V387.2" stroke="#231f20" stroke-width="3" fill="none"/>
<path d="M103.0 377.2L110.6 400.2Q103.0 391.2 95.4 400.2Z" fill="#231f20"/>
<path d="M222.6 467.6V417.4" stroke="#231f20" stroke-width="3" fill="none"/>
<path d="M222.6 407.4L230.2 430.4Q222.6 421.4 215.0 430.4Z" fill="#231f20"/>
<path d="M340.3 467.6V432.8" stroke="#231f20" stroke-width="3" fill="none"/>
<path d="M340.3 422.8L347.90000000000003 445.8Q340.3 436.8 332.7 445.8Z" fill="#231f20"/>
<path d="M458.2 467.6V447.9" stroke="#231f20" stroke-width="3" fill="none"/>
<path d="M458.2 437.9L465.8 459.9Q458.2 450.9 450.59999999999997 459.9Z" fill="#231f20"/>
<text x="112.6" y="374.8" font-size="34.5" letter-spacing="-1.0">0th</text>
<text x="204.9" y="392.7" font-size="34.5" letter-spacing="-1.0">1st</text>
<text x="315.7" y="405.8" font-size="34.5" letter-spacing="-1.0">2nd</text>
<text x="435.6" y="420.9" font-size="34.5" letter-spacing="-1.0">3rd</text>
<path d="M103.6,467.2 L281.7,467.2 L284,460 L286,446 L288.3,433 L291.1,390 L295,367 L297.5,335 L299.6,292 L300.6,240" stroke="#231f20" stroke-width="3.2" stroke-dasharray="13 7" fill="none" stroke-linejoin="round"/>
<path d="M303.7,58.6L300.6,240" stroke="#231f20" stroke-width="3.4" stroke-dasharray="14.5 16" fill="none"/>
<path d="M305.5,58.6L307.9,240" stroke="#231f20" stroke-width="3.4" stroke-dasharray="14.5 16" fill="none"/>
<path d="M307.9,240 L308.6,256 L310,285 L313,308 L316,319 L318.5,323.7 L321,312 L324,275 L327,232 L330.8,192.5 L332.6,210 L334.6,229.3 L337,255 L339.3,278.4 L343,295 L346.8,306.7 L350.5,318 L354,330.6 L358,348 L365,382 L372,411 L379,437 L386,453 L394,463 L400,466.5 L407,467.2" stroke="#231f20" stroke-width="3.2" stroke-dasharray="13 7" fill="none" stroke-linejoin="round"/>
<path d="M103.6,467.4 L250,467.2 L270,466.3 L277.9,465 L281,455 L284.5,433.2 L287,410 L290.2,389.8 L294.9,367.1 L297,340 L299.6,301 L302,258 L303.8,225.5 L305.5,236 L306.6,246 L308.1,258 L310,287 L311.9,310.5 L314,316.5 L316.6,316 L319,305 L322.3,282 L325,260 L328,238.7 L330.5,232 L332.7,230.2 L335,240 L337.4,263.3 L340,276 L343.1,286 L347,296 L350.6,306.7 L354.5,320 L358.2,336.9 L362,353 L365.7,370.9 L369.5,387 L373.3,403 L377,418 L380.8,431.3 L384.6,443 L388.4,452 L392,458.5 L395.9,462.4 L401,465.5 L407.2,467.2 L577.6,467.4" stroke="#231f20" stroke-width="3" fill="none" stroke-linejoin="round"/>
<path d="M103.6,467.4 L250,467.2 L270,466.3 L277.9,465 L281,455 L284.5,433.2 L287,410 L290.2,389.8 L294.9,367.1 L297,340 L299.6,301 L302.5,255.7 L304.5,242 L306.3,238.7 L308.5,243 L311.9,250 L313,262 L314.7,282.2 L317,303 L319.5,312.4 L322,305 L325.1,285.9 L328.5,262 L331.7,240.6 L335,226 L337.4,220.8 L340,221.5 L342.1,225.5 L344.5,238 L346.8,255.7 L349.5,272 L352.5,285.9 L357,298 L361.9,308.6 L365.5,319 L369.5,331.2 L373,346 L377,363.3 L384.6,393.5 L392.2,423.7 L396,436 L399.7,446.4 L403.5,454 L407.2,459.6 L412,463.5 L416.7,465.6 L423,466.8 L429.9,467.3 L577.6,467.4" stroke="#2e3192" stroke-width="3" fill="none" stroke-linejoin="round"/>
<rect x="316.1" y="73.9" width="255.4" height="74.1" fill="#fff" stroke="#333" stroke-width="1.4"/>
<path d="M323.3 87.6H359.5" stroke="#231f20" stroke-width="3.4" stroke-dasharray="4 9.5 12.4 4.8 12" fill="none"/>
<path d="M323.3 112H359.5" stroke="#231f20" stroke-width="3.2" fill="none"/>
<path d="M323.3 134.3H359.5" stroke="#2e3192" stroke-width="3.2" fill="none"/>
<text x="367.5" y="93.9" font-size="21.9" letter-spacing="-0.57">RMS 0 nm (TMM)</text>
<text x="367.5" y="117.5" font-size="21.9" letter-spacing="-0.57">RMS 0 nm (Simulation)</text>
<text x="367.5" y="140.9" font-size="21.9" letter-spacing="-0.57">RMS 2 nm (Simulation)</text>
<rect x="112.8" y="669.5" width="469.9" height="407.0" fill="none" stroke="#4a4a4c" stroke-width="1.7"/>
<path d="M178.1 669.5v6M178.1 1076.5v-6M243.4 669.5v6M243.4 1076.5v-6M308.7 669.5v6M308.7 1076.5v-6M374.0 669.5v6M374.0 1076.5v-6M439.3 669.5v6M439.3 1076.5v-6M504.6 669.5v6M504.6 1076.5v-6M569.9 669.5v6M569.9 1076.5v-6M112.8 1028.5h6M582.7 1028.5h-6M112.8 980.2h6M582.7 980.2h-6M112.8 932.0h6M582.7 932.0h-6M112.8 883.7h6M582.7 883.7h-6M112.8 835.4h6M582.7 835.4h-6M112.8 787.1h6M582.7 787.1h-6M112.8 738.9h6M582.7 738.9h-6M112.8 690.6h6M582.7 690.6h-6" stroke="#4a4a4c" stroke-width="1.4" fill="none"/>
<text x="105.8" y="1081.1" font-size="34.0" text-anchor="end" letter-spacing="-1.0">0</text>
<text x="103.3" y="992.2" font-size="34.0" text-anchor="end" letter-spacing="-1.0">0.02</text>
<text x="103.3" y="894.9" font-size="34.0" text-anchor="end" letter-spacing="-1.0">0.04</text>
<text x="103.3" y="798.4" font-size="34.0" text-anchor="end" letter-spacing="-1.0">0.06</text>
<text x="103.3" y="701.8" font-size="34.0" text-anchor="end" letter-spacing="-1.0">0.08</text>
<text x="115" y="1108.4" font-size="34.0" text-anchor="middle" letter-spacing="-1.0">0</text>
<text x="247.1" y="1108.4" font-size="34.0" text-anchor="middle" letter-spacing="-1.0">100</text>
<text x="377.5" y="1108.4" font-size="34.0" text-anchor="middle" letter-spacing="-1.0">200</text>
<text x="505.5" y="1108.4" font-size="34.0" text-anchor="middle" letter-spacing="-1.0">300</text>
<text x="26.4" y="878.5" font-size="34.2" text-anchor="middle" transform="rotate(-90 26.4 878.5)" letter-spacing="-0.33" word-spacing="2">Intensity (a. u.)</text>
<text x="312" y="1146.5" font-size="34.0" letter-spacing="-1.0" word-spacing="2"><tspan font-style="italic">x</tspan> (nm)</text>
<path d="M112.8,1076.8 L113.5,1076.7 L114.1,1076.4 L114.8,1075.8 L115.4,1075.0 L116.1,1074.0 L116.7,1072.8 L117.4,1071.3 L118.0,1069.7 L118.7,1067.8 L119.3,1065.7 L120.0,1063.4 L120.6,1060.9 L121.3,1058.2 L121.9,1055.3 L122.6,1052.2 L123.2,1048.9 L123.9,1045.4 L124.6,1041.7 L125.2,1037.9 L125.9,1033.8 L126.5,1029.6 L127.2,1025.2 L127.8,1020.7 L128.5,1016.0 L129.1,1011.2 L129.8,1006.2 L130.4,1001.1 L131.1,995.8 L131.7,990.5 L132.4,985.0 L133.0,979.3 L133.7,973.6 L134.3,967.8 L135.0,961.9 L135.7,955.9 L136.3,949.9 L137.0,943.7 L137.6,937.6 L138.3,931.3 L138.9,925.0 L139.6,918.7 L140.2,912.3 L140.9,905.9 L141.5,899.5 L142.2,893.1 L142.8,886.7 L143.5,880.3 L144.1,873.9 L144.8,867.5 L145.4,861.2 L146.1,854.9 L146.8,848.7 L147.4,842.5 L148.1,836.4 L148.7,830.3 L149.4,824.3 L150.0,818.4 L150.7,812.6 L151.3,806.9 L152.0,801.3 L152.6,795.8 L153.3,790.4 L153.9,785.1 L154.6,780.0 L155.2,775.0 L155.9,770.2 L156.6,765.5 L157.2,761.0 L157.9,756.6 L158.5,752.4 L159.2,748.4 L159.8,744.5 L160.5,740.8 L161.1,737.3 L161.8,734.0 L162.4,730.9 L163.1,728.0 L163.7,725.3 L164.4,722.8 L165.0,720.5 L165.7,718.4 L166.3,716.5 L167.0,714.9 L167.7,713.4 L168.3,712.2 L169.0,711.2 L169.6,710.4 L170.3,709.9 L170.9,709.5 L171.6,709.4 L172.2,709.5 L172.9,709.9 L173.5,710.4 L174.2,711.2 L174.8,712.2 L175.5,713.4 L176.1,714.9 L176.8,716.5 L177.4,718.4 L178.1,720.5 L178.8,722.8 L179.4,725.3 L180.1,728.0 L180.7,730.9 L181.4,734.0 L182.0,737.3 L182.7,740.8 L183.3,744.5 L184.0,748.4 L184.6,752.4 L185.3,756.6 L185.9,761.0 L186.6,765.5 L187.2,770.2 L187.9,775.0 L188.5,780.0 L189.2,785.1 L189.9,790.4 L190.5,795.8 L191.2,801.3 L191.8,806.9 L192.5,812.6 L193.1,818.4 L193.8,824.3 L194.4,830.3 L195.1,836.4 L195.7,842.5 L196.4,848.7 L197.0,854.9 L197.7,861.2 L198.3,867.5 L199.0,873.9 L199.6,880.3 L200.3,886.7 L201.0,893.1 L201.6,899.5 L202.3,905.9 L202.9,912.3 L203.6,918.7 L204.2,925.0 L204.9,931.3 L205.5,937.6 L206.2,943.7 L206.8,949.9 L207.5,955.9 L208.1,961.9 L208.8,967.8 L209.4,973.6 L210.1,979.3 L210.8,985.0 L211.4,990.5 L212.1,995.8 L212.7,1001.1 L213.4,1006.2 L214.0,1011.2 L214.7,1016.0 L215.3,1020.7 L216.0,1025.2 L216.6,1029.6 L217.3,1033.8 L217.9,1037.9 L218.6,1041.7 L219.2,1045.4 L219.9,1048.9 L220.5,1052.2 L221.2,1055.3 L221.9,1058.2 L222.5,1060.9 L223.2,1063.4 L223.8,1065.7 L224.5,1067.8 L225.1,1069.7 L225.8,1071.3 L226.4,1072.8 L227.1,1074.0 L227.7,1075.0 L228.4,1075.8 L229.0,1076.4 L229.7,1076.7 L230.3,1076.8 L231.0,1076.7 L231.6,1076.4 L232.3,1075.8 L233.0,1075.0 L233.6,1074.0 L234.3,1072.8 L234.9,1071.4 L235.6,1069.7 L236.2,1067.8 L236.9,1065.8 L237.5,1063.5 L238.2,1061.0 L238.8,1058.3 L239.5,1055.4 L240.1,1052.3 L240.8,1049.0 L241.4,1045.5 L242.1,1041.9 L242.7,1038.0 L243.4,1034.0 L244.1,1029.8 L244.7,1025.4 L245.4,1020.9 L246.0,1016.3 L246.7,1011.4 L247.3,1006.5 L248.0,1001.4 L248.6,996.1 L249.3,990.8 L249.9,985.3 L250.6,979.7 L251.2,974.0 L251.9,968.3 L252.5,962.4 L253.2,956.4 L253.8,950.4 L254.5,944.3 L255.2,938.1 L255.8,931.9 L256.5,925.6 L257.1,919.3 L257.8,913.0 L258.4,906.6 L259.1,900.2 L259.7,893.8 L260.4,887.5 L261.0,881.1 L261.7,874.7 L262.3,868.4 L263.0,862.1 L263.6,855.8 L264.3,849.6 L264.9,843.4 L265.6,837.3 L266.3,831.3 L266.9,825.3 L267.6,819.4 L268.2,813.6 L268.9,807.9 L269.5,802.4 L270.2,796.9 L270.8,791.5 L271.5,786.3 L272.1,781.2 L272.8,776.2 L273.4,771.4 L274.1,766.7 L274.7,762.2 L275.4,757.9 L276.1,753.7 L276.7,749.7 L277.4,745.8 L278.0,742.2 L278.7,738.7 L279.3,735.4 L280.0,732.3 L280.6,729.4 L281.3,726.7 L281.9,724.2 L282.6,721.9 L283.2,719.8 L283.9,718.0 L284.5,716.3 L285.2,714.9 L285.8,713.7 L286.5,712.7 L287.2,711.9 L287.8,711.3 L288.5,711.0 L289.1,710.9 L289.8,711.0 L290.4,711.3 L291.1,711.9 L291.7,712.7 L292.4,713.7 L293.0,714.9 L293.7,716.3 L294.3,718.0 L295.0,719.8 L295.6,721.9 L296.3,724.2 L296.9,726.7 L297.6,729.4 L298.3,732.3 L298.9,735.4 L299.6,738.7 L300.2,742.2 L300.9,745.8 L301.5,749.7 L302.2,753.7 L302.8,757.9 L303.5,762.2 L304.1,766.7 L304.8,771.4 L305.4,776.2 L306.1,781.2 L306.7,786.3 L307.4,791.5 L308.0,796.9 L308.7,802.4 L309.4,807.9 L310.0,813.6 L310.7,819.4 L311.3,825.3 L312.0,831.3 L312.6,837.3 L313.3,843.4 L313.9,849.6 L314.6,855.8 L315.2,862.1 L315.9,868.4 L316.5,874.7 L317.2,881.1 L317.8,887.5 L318.5,893.8 L319.1,900.2 L319.8,906.6 L320.5,913.0 L321.1,919.3 L321.8,925.6 L322.4,931.9 L323.1,938.1 L323.7,944.3 L324.4,950.4 L325.0,956.4 L325.7,962.4 L326.3,968.3 L327.0,974.0 L327.6,979.7 L328.3,985.3 L328.9,990.8 L329.6,996.1 L330.2,1001.4 L330.9,1006.5 L331.6,1011.4 L332.2,1016.3 L332.9,1020.9 L333.5,1025.4 L334.2,1029.8 L334.8,1034.0 L335.5,1038.0 L336.1,1041.9 L336.8,1045.5 L337.4,1049.0 L338.1,1052.3 L338.7,1055.4 L339.4,1058.3 L340.0,1061.0 L340.7,1063.5 L341.4,1065.8 L342.0,1067.8 L342.7,1069.7 L343.3,1071.4 L344.0,1072.8 L344.6,1074.0 L345.3,1075.0 L345.9,1075.8 L346.6,1076.4 L347.2,1076.7 L347.9,1076.8 L348.5,1076.7 L349.2,1076.4 L349.8,1075.8 L350.5,1075.0 L351.1,1074.0 L351.8,1072.8 L352.5,1071.4 L353.1,1069.7 L353.8,1067.8 L354.4,1065.7 L355.1,1063.4 L355.7,1060.9 L356.4,1058.2 L357.0,1055.3 L357.7,1052.2 L358.3,1048.9 L359.0,1045.4 L359.6,1041.8 L360.3,1037.9 L360.9,1033.9 L361.6,1029.7 L362.2,1025.3 L362.9,1020.8 L363.6,1016.1 L364.2,1011.3 L364.9,1006.3 L365.5,1001.2 L366.2,995.9 L366.8,990.6 L367.5,985.1 L368.1,979.5 L368.8,973.8 L369.4,968.0 L370.1,962.1 L370.7,956.1 L371.4,950.0 L372.0,943.9 L372.7,937.7 L373.3,931.5 L374.0,925.2 L374.7,918.9 L375.3,912.5 L376.0,906.2 L376.6,899.8 L377.3,893.4 L377.9,887.0 L378.6,880.6 L379.2,874.2 L379.9,867.8 L380.5,861.5 L381.2,855.2 L381.8,849.0 L382.5,842.8 L383.1,836.7 L383.8,830.6 L384.4,824.6 L385.1,818.7 L385.8,812.9 L386.4,807.2 L387.1,801.6 L387.7,796.1 L388.4,790.8 L389.0,785.5 L389.7,780.4 L390.3,775.4 L391.0,770.6 L391.6,765.9 L392.3,761.4 L392.9,757.0 L393.6,752.8 L394.2,748.8 L394.9,744.9 L395.5,741.3 L396.2,737.8 L396.9,734.5 L397.5,731.4 L398.2,728.5 L398.8,725.8 L399.5,723.3 L400.1,721.0 L400.8,718.9 L401.4,717.0 L402.1,715.4 L402.7,713.9 L403.4,712.7 L404.0,711.7 L404.7,710.9 L405.3,710.4 L406.0,710.0 L406.7,709.9 L407.3,710.0 L408.0,710.4 L408.6,710.9 L409.3,711.7 L409.9,712.7 L410.6,713.9 L411.2,715.4 L411.9,717.0 L412.5,718.9 L413.2,721.0 L413.8,723.3 L414.5,725.8 L415.1,728.5 L415.8,731.4 L416.4,734.5 L417.1,737.8 L417.8,741.3 L418.4,744.9 L419.1,748.8 L419.7,752.8 L420.4,757.0 L421.0,761.4 L421.7,765.9 L422.3,770.6 L423.0,775.4 L423.6,780.4 L424.3,785.5 L424.9,790.8 L425.6,796.1 L426.2,801.6 L426.9,807.2 L427.5,812.9 L428.2,818.7 L428.9,824.6 L429.5,830.6 L430.2,836.7 L430.8,842.8 L431.5,849.0 L432.1,855.2 L432.8,861.5 L433.4,867.8 L434.1,874.2 L434.7,880.6 L435.4,887.0 L436.0,893.4 L436.7,899.8 L437.3,906.2 L438.0,912.5 L438.6,918.9 L439.3,925.2 L440.0,931.5 L440.6,937.7 L441.3,943.9 L441.9,950.0 L442.6,956.1 L443.2,962.1 L443.9,968.0 L444.5,973.8 L445.2,979.5 L445.8,985.1 L446.5,990.6 L447.1,995.9 L447.8,1001.2 L448.4,1006.3 L449.1,1011.3 L449.7,1016.1 L450.4,1020.8 L451.1,1025.3 L451.7,1029.7 L452.4,1033.9 L453.0,1037.9 L453.7,1041.8 L454.3,1045.4 L455.0,1048.9 L455.6,1052.2 L456.3,1055.3 L456.9,1058.2 L457.6,1060.9 L458.2,1063.4 L458.9,1065.7 L459.5,1067.8 L460.2,1069.7 L460.8,1071.4 L461.5,1072.8 L462.2,1074.0 L462.8,1075.0 L463.5,1075.8 L464.1,1076.4 L464.8,1076.7 L465.4,1076.8 L466.1,1076.7 L466.7,1076.4 L467.4,1075.8 L468.0,1075.0 L468.7,1074.0 L469.3,1072.8 L470.0,1071.3 L470.6,1069.7 L471.3,1067.8 L472.0,1065.7 L472.6,1063.4 L473.3,1060.9 L473.9,1058.2 L474.6,1055.3 L475.2,1052.2 L475.9,1048.9 L476.5,1045.4 L477.2,1041.7 L477.8,1037.8 L478.5,1033.8 L479.1,1029.6 L479.8,1025.2 L480.4,1020.6 L481.1,1015.9 L481.7,1011.1 L482.4,1006.1 L483.1,1001.0 L483.7,995.7 L484.4,990.3 L485.0,984.8 L485.7,979.2 L486.3,973.5 L487.0,967.7 L487.6,961.8 L488.3,955.8 L488.9,949.7 L489.6,943.6 L490.2,937.4 L490.9,931.1 L491.5,924.8 L492.2,918.5 L492.8,912.1 L493.5,905.7 L494.2,899.3 L494.8,892.9 L495.5,886.5 L496.1,880.0 L496.8,873.6 L497.4,867.3 L498.1,860.9 L498.7,854.6 L499.4,848.4 L500.0,842.2 L500.7,836.0 L501.3,830.0 L502.0,824.0 L502.6,818.1 L503.3,812.2 L503.9,806.5 L504.6,800.9 L505.3,795.4 L505.9,790.0 L506.6,784.8 L507.2,779.6 L507.9,774.6 L508.5,769.8 L509.2,765.1 L509.8,760.6 L510.5,756.2 L511.1,752.0 L511.8,747.9 L512.4,744.1 L513.1,740.4 L513.7,736.9 L514.4,733.6 L515.0,730.5 L515.7,727.6 L516.4,724.8 L517.0,722.3 L517.7,720.0 L518.3,717.9 L519.0,716.1 L519.6,714.4 L520.3,713.0 L520.9,711.7 L521.6,710.7 L522.2,710.0 L522.9,709.4 L523.5,709.1 L524.2,708.9 L524.8,709.1 L525.5,709.4 L526.1,710.0 L526.8,710.7 L527.5,711.7 L528.1,713.0 L528.8,714.4 L529.4,716.1 L530.1,717.9 L530.7,720.0 L531.4,722.3 L532.0,724.8 L532.7,727.6 L533.3,730.5 L534.0,733.6 L534.6,736.9 L535.3,740.4 L535.9,744.1 L536.6,747.9 L537.2,752.0 L537.9,756.2 L538.6,760.6 L539.2,765.1 L539.9,769.8 L540.5,774.6 L541.2,779.6 L541.8,784.8 L542.5,790.0 L543.1,795.4 L543.8,800.9 L544.4,806.5 L545.1,812.2 L545.7,818.1 L546.4,824.0 L547.0,830.0 L547.7,836.0 L548.4,842.2 L549.0,848.4 L549.7,854.6 L550.3,860.9 L551.0,867.3 L551.6,873.6 L552.3,880.0 L552.9,886.5 L553.6,892.9 L554.2,899.3 L554.9,905.7 L555.5,912.1 L556.2,918.5 L556.8,924.8 L557.5,931.1 L558.1,937.4 L558.8,943.6 L559.5,949.7 L560.1,955.8 L560.8,961.8 L561.4,967.7 L562.1,973.5 L562.7,979.2 L563.4,984.8 L564.0,990.3 L564.7,995.7 L565.3,1001.0 L566.0,1006.1 L566.6,1011.1 L567.3,1015.9 L567.9,1020.6 L568.6,1025.2 L569.2,1029.6 L569.9,1033.8 L570.6,1037.8 L571.2,1041.7 L571.9,1045.4 L572.5,1048.9 L573.2,1052.2 L573.8,1055.3 L574.5,1058.2 L575.1,1060.9 L575.8,1063.4 L576.4,1065.7 L577.1,1067.8 L577.7,1069.7 L578.4,1071.3 L579.0,1072.8 L579.7,1074.0 L580.3,1075.0 L581.0,1075.8 L581.7,1076.4 L582.3,1076.7 L583.0,1076.8" stroke="#231f20" stroke-width="3.3" fill="none" stroke-linejoin="round"/>
<path d="M112.8,1076.8 L113.5,1076.7 L114.1,1076.3 L114.8,1075.7 L115.4,1074.9 L116.1,1073.9 L116.7,1072.6 L117.4,1071.1 L118.0,1069.4 L118.7,1067.4 L119.3,1065.2 L120.0,1062.8 L120.6,1060.2 L121.3,1057.4 L121.9,1054.3 L122.6,1051.1 L123.2,1047.6 L123.9,1044.0 L124.6,1040.2 L125.2,1036.1 L125.9,1031.9 L126.5,1027.5 L127.2,1022.9 L127.8,1018.2 L128.5,1013.3 L129.1,1008.3 L129.8,1003.0 L130.4,997.7 L131.1,992.2 L131.7,986.6 L132.4,980.9 L133.0,975.0 L133.7,969.0 L134.3,963.0 L135.0,956.8 L135.7,950.5 L136.3,944.2 L137.0,937.8 L137.6,931.3 L138.3,924.8 L138.9,918.2 L139.6,911.6 L140.2,905.0 L140.9,898.3 L141.5,891.6 L142.2,884.9 L142.8,878.2 L143.5,871.5 L144.1,864.8 L144.8,858.2 L145.4,851.6 L146.1,845.0 L146.8,838.5 L147.4,832.0 L148.1,825.6 L148.7,819.3 L149.4,813.0 L150.0,806.9 L150.7,800.8 L151.3,794.8 L152.0,789.0 L152.6,783.2 L153.3,777.6 L153.9,772.1 L154.6,766.8 L155.2,761.6 L155.9,756.5 L156.6,751.6 L157.2,746.9 L157.9,742.3 L158.5,737.9 L159.2,733.7 L159.8,729.7 L160.5,725.8 L161.1,722.2 L161.8,718.7 L162.4,715.5 L163.1,712.4 L163.7,709.6 L164.4,707.0 L165.0,704.6 L165.7,702.4 L166.3,700.4 L167.0,698.7 L167.7,697.2 L168.3,695.9 L169.0,694.9 L169.6,694.1 L170.3,693.5 L170.9,693.1 L171.6,693.0 L172.2,693.1 L172.9,693.5 L173.5,694.1 L174.2,694.9 L174.8,695.9 L175.5,697.2 L176.1,698.7 L176.8,700.4 L177.4,702.4 L178.1,704.6 L178.8,707.0 L179.4,709.6 L180.1,712.4 L180.7,715.5 L181.4,718.7 L182.0,722.2 L182.7,725.8 L183.3,729.7 L184.0,733.7 L184.6,737.9 L185.3,742.3 L185.9,746.9 L186.6,751.6 L187.2,756.5 L187.9,761.6 L188.5,766.8 L189.2,772.1 L189.9,777.6 L190.5,783.2 L191.2,789.0 L191.8,794.8 L192.5,800.8 L193.1,806.9 L193.8,813.0 L194.4,819.3 L195.1,825.6 L195.7,832.0 L196.4,838.5 L197.0,845.0 L197.7,851.6 L198.3,858.2 L199.0,864.8 L199.6,871.5 L200.3,878.2 L201.0,884.9 L201.6,891.6 L202.3,898.3 L202.9,905.0 L203.6,911.6 L204.2,918.2 L204.9,924.8 L205.5,931.3 L206.2,937.8 L206.8,944.2 L207.5,950.5 L208.1,956.8 L208.8,963.0 L209.4,969.0 L210.1,975.0 L210.8,980.9 L211.4,986.6 L212.1,992.2 L212.7,997.7 L213.4,1003.0 L214.0,1008.3 L214.7,1013.3 L215.3,1018.2 L216.0,1022.9 L216.6,1027.5 L217.3,1031.9 L217.9,1036.1 L218.6,1040.2 L219.2,1044.0 L219.9,1047.6 L220.5,1051.1 L221.2,1054.3 L221.9,1057.4 L222.5,1060.2 L223.2,1062.8 L223.8,1065.2 L224.5,1067.4 L225.1,1069.4 L225.8,1071.1 L226.4,1072.6 L227.1,1073.9 L227.7,1074.9 L228.4,1075.7 L229.0,1076.3 L229.7,1076.7 L230.3,1076.8 L231.0,1076.7 L231.6,1076.3 L232.3,1075.8 L233.0,1075.0 L233.6,1073.9 L234.3,1072.7 L234.9,1071.2 L235.6,1069.5 L236.2,1067.5 L236.9,1065.4 L237.5,1063.0 L238.2,1060.4 L238.8,1057.6 L239.5,1054.6 L240.1,1051.4 L240.8,1048.0 L241.4,1044.4 L242.1,1040.6 L242.7,1036.6 L243.4,1032.5 L244.1,1028.1 L244.7,1023.6 L245.4,1018.9 L246.0,1014.1 L246.7,1009.1 L247.3,1004.0 L248.0,998.7 L248.6,993.3 L249.3,987.7 L249.9,982.1 L250.6,976.3 L251.2,970.4 L251.9,964.4 L252.5,958.3 L253.2,952.1 L253.8,945.9 L254.5,939.5 L255.2,933.2 L255.8,926.7 L256.5,920.2 L257.1,913.7 L257.8,907.1 L258.4,900.5 L259.1,893.9 L259.7,887.3 L260.4,880.7 L261.0,874.1 L261.7,867.5 L262.3,861.0 L263.0,854.4 L263.6,847.9 L264.3,841.5 L264.9,835.1 L265.6,828.8 L266.3,822.5 L266.9,816.3 L267.6,810.3 L268.2,804.3 L268.9,798.4 L269.5,792.6 L270.2,786.9 L270.8,781.4 L271.5,775.9 L272.1,770.7 L272.8,765.5 L273.4,760.5 L274.1,755.7 L274.7,751.0 L275.4,746.5 L276.1,742.2 L276.7,738.0 L277.4,734.0 L278.0,730.2 L278.7,726.6 L279.3,723.2 L280.0,720.0 L280.6,717.0 L281.3,714.2 L281.9,711.6 L282.6,709.3 L283.2,707.1 L283.9,705.2 L284.5,703.5 L285.2,702.0 L285.8,700.7 L286.5,699.7 L287.2,698.9 L287.8,698.3 L288.5,698.0 L289.1,697.8 L289.8,698.0 L290.4,698.3 L291.1,698.9 L291.7,699.7 L292.4,700.7 L293.0,702.0 L293.7,703.5 L294.3,705.2 L295.0,707.1 L295.6,709.3 L296.3,711.6 L296.9,714.2 L297.6,717.0 L298.3,720.0 L298.9,723.2 L299.6,726.6 L300.2,730.2 L300.9,734.0 L301.5,738.0 L302.2,742.2 L302.8,746.5 L303.5,751.0 L304.1,755.7 L304.8,760.5 L305.4,765.5 L306.1,770.7 L306.7,775.9 L307.4,781.4 L308.0,786.9 L308.7,792.6 L309.4,798.4 L310.0,804.3 L310.7,810.3 L311.3,816.3 L312.0,822.5 L312.6,828.8 L313.3,835.1 L313.9,841.5 L314.6,847.9 L315.2,854.4 L315.9,861.0 L316.5,867.5 L317.2,874.1 L317.8,880.7 L318.5,887.3 L319.1,893.9 L319.8,900.5 L320.5,907.1 L321.1,913.7 L321.8,920.2 L322.4,926.7 L323.1,933.2 L323.7,939.5 L324.4,945.9 L325.0,952.1 L325.7,958.3 L326.3,964.4 L327.0,970.4 L327.6,976.3 L328.3,982.1 L328.9,987.7 L329.6,993.3 L330.2,998.7 L330.9,1004.0 L331.6,1009.1 L332.2,1014.1 L332.9,1018.9 L333.5,1023.6 L334.2,1028.1 L334.8,1032.5 L335.5,1036.6 L336.1,1040.6 L336.8,1044.4 L337.4,1048.0 L338.1,1051.4 L338.7,1054.6 L339.4,1057.6 L340.0,1060.4 L340.7,1063.0 L341.4,1065.4 L342.0,1067.5 L342.7,1069.5 L343.3,1071.2 L344.0,1072.7 L344.6,1073.9 L345.3,1075.0 L345.9,1075.8 L346.6,1076.3 L347.2,1076.7 L347.9,1076.8 L348.5,1076.7 L349.2,1076.3 L349.8,1075.8 L350.5,1075.0 L351.1,1073.9 L351.8,1072.7 L352.5,1071.2 L353.1,1069.5 L353.8,1067.6 L354.4,1065.5 L355.1,1063.1 L355.7,1060.5 L356.4,1057.8 L357.0,1054.8 L357.7,1051.6 L358.3,1048.2 L359.0,1044.7 L359.6,1040.9 L360.3,1036.9 L360.9,1032.8 L361.6,1028.5 L362.2,1024.0 L362.9,1019.4 L363.6,1014.6 L364.2,1009.6 L364.9,1004.5 L365.5,999.3 L366.2,993.9 L366.8,988.4 L367.5,982.8 L368.1,977.0 L368.8,971.2 L369.4,965.2 L370.1,959.2 L370.7,953.1 L371.4,946.9 L372.0,940.6 L372.7,934.3 L373.3,927.9 L374.0,921.4 L374.7,914.9 L375.3,908.4 L376.0,901.9 L376.6,895.3 L377.3,888.8 L377.9,882.2 L378.6,875.7 L379.2,869.1 L379.9,862.6 L380.5,856.1 L381.2,849.7 L381.8,843.3 L382.5,836.9 L383.1,830.7 L383.8,824.5 L384.4,818.3 L385.1,812.3 L385.8,806.3 L386.4,800.5 L387.1,794.8 L387.7,789.1 L388.4,783.6 L389.0,778.2 L389.7,773.0 L390.3,767.9 L391.0,763.0 L391.6,758.2 L392.3,753.5 L392.9,749.0 L393.6,744.7 L394.2,740.6 L394.9,736.6 L395.5,732.9 L396.2,729.3 L396.9,725.9 L397.5,722.7 L398.2,719.8 L398.8,717.0 L399.5,714.4 L400.1,712.1 L400.8,709.9 L401.4,708.0 L402.1,706.3 L402.7,704.8 L403.4,703.6 L404.0,702.6 L404.7,701.8 L405.3,701.2 L406.0,700.9 L406.7,700.7 L407.3,700.9 L408.0,701.2 L408.6,701.8 L409.3,702.6 L409.9,703.6 L410.6,704.8 L411.2,706.3 L411.9,708.0 L412.5,709.9 L413.2,712.1 L413.8,714.4 L414.5,717.0 L415.1,719.8 L415.8,722.7 L416.4,725.9 L417.1,729.3 L417.8,732.9 L418.4,736.6 L419.1,740.6 L419.7,744.7 L420.4,749.0 L421.0,753.5 L421.7,758.2 L422.3,763.0 L423.0,767.9 L423.6,773.0 L424.3,778.2 L424.9,783.6 L425.6,789.1 L426.2,794.8 L426.9,800.5 L427.5,806.3 L428.2,812.3 L428.9,818.3 L429.5,824.5 L430.2,830.7 L430.8,836.9 L431.5,843.3 L432.1,849.7 L432.8,856.1 L433.4,862.6 L434.1,869.1 L434.7,875.7 L435.4,882.2 L436.0,888.8 L436.7,895.3 L437.3,901.9 L438.0,908.4 L438.6,914.9 L439.3,921.4 L440.0,927.9 L440.6,934.3 L441.3,940.6 L441.9,946.9 L442.6,953.1 L443.2,959.2 L443.9,965.2 L444.5,971.2 L445.2,977.0 L445.8,982.8 L446.5,988.4 L447.1,993.9 L447.8,999.3 L448.4,1004.5 L449.1,1009.6 L449.7,1014.6 L450.4,1019.4 L451.1,1024.0 L451.7,1028.5 L452.4,1032.8 L453.0,1036.9 L453.7,1040.9 L454.3,1044.7 L455.0,1048.2 L455.6,1051.6 L456.3,1054.8 L456.9,1057.8 L457.6,1060.5 L458.2,1063.1 L458.9,1065.5 L459.5,1067.6 L460.2,1069.5 L460.8,1071.2 L461.5,1072.7 L462.2,1073.9 L462.8,1075.0 L463.5,1075.8 L464.1,1076.3 L464.8,1076.7 L465.4,1076.8 L466.1,1076.7 L466.7,1076.3 L467.4,1075.7 L468.0,1074.9 L468.7,1073.9 L469.3,1072.6 L470.0,1071.1 L470.6,1069.3 L471.3,1067.4 L472.0,1065.2 L472.6,1062.8 L473.3,1060.2 L473.9,1057.3 L474.6,1054.3 L475.2,1051.0 L475.9,1047.6 L476.5,1043.9 L477.2,1040.1 L477.8,1036.0 L478.5,1031.8 L479.1,1027.4 L479.8,1022.8 L480.4,1018.1 L481.1,1013.1 L481.7,1008.1 L482.4,1002.9 L483.1,997.5 L483.7,992.0 L484.4,986.4 L485.0,980.6 L485.7,974.7 L486.3,968.8 L487.0,962.7 L487.6,956.5 L488.3,950.2 L488.9,943.9 L489.6,937.5 L490.2,931.0 L490.9,924.4 L491.5,917.8 L492.2,911.2 L492.8,904.5 L493.5,897.8 L494.2,891.1 L494.8,884.4 L495.5,877.7 L496.1,871.0 L496.8,864.3 L497.4,857.7 L498.1,851.0 L498.7,844.4 L499.4,837.9 L500.0,831.4 L500.7,825.0 L501.3,818.6 L502.0,812.4 L502.6,806.2 L503.3,800.1 L503.9,794.1 L504.6,788.2 L505.3,782.5 L505.9,776.8 L506.6,771.3 L507.2,766.0 L507.9,760.8 L508.5,755.7 L509.2,750.8 L509.8,746.0 L510.5,741.5 L511.1,737.1 L511.8,732.8 L512.4,728.8 L513.1,724.9 L513.7,721.3 L514.4,717.8 L515.0,714.6 L515.7,711.5 L516.4,708.7 L517.0,706.1 L517.7,703.6 L518.3,701.5 L519.0,699.5 L519.6,697.8 L520.3,696.3 L520.9,695.0 L521.6,693.9 L522.2,693.1 L522.9,692.5 L523.5,692.2 L524.2,692.0 L524.8,692.2 L525.5,692.5 L526.1,693.1 L526.8,693.9 L527.5,695.0 L528.1,696.3 L528.8,697.8 L529.4,699.5 L530.1,701.5 L530.7,703.6 L531.4,706.1 L532.0,708.7 L532.7,711.5 L533.3,714.6 L534.0,717.8 L534.6,721.3 L535.3,724.9 L535.9,728.8 L536.6,732.8 L537.2,737.1 L537.9,741.5 L538.6,746.0 L539.2,750.8 L539.9,755.7 L540.5,760.8 L541.2,766.0 L541.8,771.3 L542.5,776.8 L543.1,782.5 L543.8,788.2 L544.4,794.1 L545.1,800.1 L545.7,806.2 L546.4,812.4 L547.0,818.6 L547.7,825.0 L548.4,831.4 L549.0,837.9 L549.7,844.4 L550.3,851.0 L551.0,857.7 L551.6,864.3 L552.3,871.0 L552.9,877.7 L553.6,884.4 L554.2,891.1 L554.9,897.8 L555.5,904.5 L556.2,911.2 L556.8,917.8 L557.5,924.4 L558.1,931.0 L558.8,937.5 L559.5,943.9 L560.1,950.2 L560.8,956.5 L561.4,962.7 L562.1,968.8 L562.7,974.7 L563.4,980.6 L564.0,986.4 L564.7,992.0 L565.3,997.5 L566.0,1002.9 L566.6,1008.1 L567.3,1013.1 L567.9,1018.1 L568.6,1022.8 L569.2,1027.4 L569.9,1031.8 L570.6,1036.0 L571.2,1040.1 L571.9,1043.9 L572.5,1047.6 L573.2,1051.0 L573.8,1054.3 L574.5,1057.3 L575.1,1060.2 L575.8,1062.8 L576.4,1065.2 L577.1,1067.4 L577.7,1069.3 L578.4,1071.1 L579.0,1072.6 L579.7,1073.9 L580.3,1074.9 L581.0,1075.7 L581.7,1076.3 L582.3,1076.7 L583.0,1076.8" stroke="#2e3192" stroke-width="3.5" fill="none" stroke-linejoin="round"/>
<rect x="399.5" y="732.8" width="167.1" height="53" fill="#fff" stroke="#231f20" stroke-width="2.2"/>
<path d="M405.4 747.9H450.8" stroke="#231f20" stroke-width="3.8"/><path d="M405.4 774.4H450.8" stroke="#2e3192" stroke-width="3.8"/>
<text x="457.3" y="754.5" font-size="21.9" letter-spacing="-0.57">RMS 0 nm</text>
<text x="457.3" y="777.3" font-size="21.9" letter-spacing="-0.57">RMS 2 nm</text>
<rect x="1334.4" y="54.4" width="448.6" height="449.5" fill="url(#sC)"/>
<rect x="1334.4" y="54.4" width="448.6" height="449.5" fill="none" stroke="#222" stroke-opacity="0.55" stroke-width="0.8"/>
<rect x="1802.2" y="111.4" width="23.1" height="344.4" fill="url(#jet)" stroke="#5a3a3a" stroke-width="0.8"/>
<path d="M1802.2 145.8h4M1825.3 145.8h-4M1802.2 180.3h4M1825.3 180.3h-4M1802.2 214.7h4M1825.3 214.7h-4M1802.2 249.2h4M1825.3 249.2h-4M1802.2 283.6h4M1825.3 283.6h-4M1802.2 318.0h4M1825.3 318.0h-4M1802.2 352.5h4M1825.3 352.5h-4M1802.2 386.9h4M1825.3 386.9h-4M1802.2 421.4h4M1825.3 421.4h-4" stroke="#222" stroke-opacity="0.4" stroke-width="1" fill="none"/>
<text x="1813.5" y="96.2" font-size="34.0" text-anchor="middle" letter-spacing="-1.0">0.1</text>
<text x="1814.1" y="486.7" font-size="34.0" text-anchor="middle" letter-spacing="-1.0">0</text>
<text x="1324.9" y="67.3" font-size="34.0" text-anchor="end" letter-spacing="-1.0">0</text>
<text x="1324.9" y="206.7" font-size="34.0" text-anchor="end" letter-spacing="-1.0">100</text>
<text x="1324.9" y="345.3" font-size="34.0" text-anchor="end" letter-spacing="-1.0">200</text>
<text x="1324.9" y="481.8" font-size="34.0" text-anchor="end" letter-spacing="-1.0">300</text>
<text x="1336.3" y="534" font-size="34.0" text-anchor="middle" letter-spacing="-1.0">0</text>
<text x="1468.8" y="534" font-size="34.0" text-anchor="middle" letter-spacing="-1.0">100</text>
<text x="1598.6" y="534" font-size="34.0" text-anchor="middle" letter-spacing="-1.0">200</text>
<text x="1718.8" y="534" font-size="34.0" text-anchor="middle" letter-spacing="-1.0">300</text>
<text x="1528.8" y="570.7" font-size="34.0" letter-spacing="-1.0" word-spacing="2"><tspan font-style="italic">x</tspan> (nm)</text>
<text x="1261.6" y="276.1" font-size="34.0" text-anchor="middle" transform="rotate(-90 1261.6 276.1)" word-spacing="2" letter-spacing="-1.0"><tspan font-style="italic">y</tspan> (nm)</text>
<g clip-path="url(#cF)"><g filter="url(#wavy)"><rect x="1300.9" y="616.7" width="510.3" height="507.5" fill="url(#sF)"/><ellipse cx="1388.5" cy="942" rx="8" ry="62" fill="url(#hot)"/><ellipse cx="1389" cy="800" rx="6" ry="40" fill="url(#hot)"/><ellipse cx="1389.5" cy="1060" rx="6" ry="36" fill="url(#hot)"/><ellipse cx="1500.5" cy="890" rx="8" ry="38" fill="url(#hot)"/><ellipse cx="1500.5" cy="1000" rx="9" ry="48" fill="url(#hot)"/><ellipse cx="1612.5" cy="940" rx="6" ry="40" fill="url(#hot)"/><ellipse cx="1613" cy="1075" rx="7" ry="28" fill="url(#hot)"/><ellipse cx="1724.5" cy="845" rx="8" ry="70" fill="url(#hot)"/><ellipse cx="1725" cy="1075" rx="8" ry="42" fill="url(#hot)"/><ellipse cx="1724.5" cy="700" rx="6" ry="36" fill="url(#hot)"/></g></g>
<rect x="1330.9" y="646.7" width="450.3" height="447.5" fill="none" stroke="#222" stroke-opacity="0.55" stroke-width="0.8"/>
<rect x="1803" y="708.8" width="22.9" height="345.4" fill="url(#jet)" stroke="#5a3a3a" stroke-width="0.8"/>
<path d="M1803 743.3h4M1825.9 743.3h-4M1803 777.9h4M1825.9 777.9h-4M1803 812.4h4M1825.9 812.4h-4M1803 847.0h4M1825.9 847.0h-4M1803 881.5h4M1825.9 881.5h-4M1803 916.0h4M1825.9 916.0h-4M1803 950.6h4M1825.9 950.6h-4M1803 985.1h4M1825.9 985.1h-4M1803 1019.7h4M1825.9 1019.7h-4" stroke="#222" stroke-opacity="0.4" stroke-width="1" fill="none"/>
<text x="1810.5" y="697.4" font-size="34.0" text-anchor="middle" letter-spacing="-1.0">0.1</text>
<text x="1810" y="1086.3" font-size="34.0" text-anchor="middle" letter-spacing="-1.0">0</text>
<text x="1325.7" y="659.6" font-size="34.0" text-anchor="end" letter-spacing="-1.0">0</text>
<text x="1325.7" y="796.7" font-size="34.0" text-anchor="end" letter-spacing="-1.0">100</text>
<text x="1325.7" y="933.3" font-size="34.0" text-anchor="end" letter-spacing="-1.0">200</text>
<text x="1325.7" y="1070.1" font-size="34.0" text-anchor="end" letter-spacing="-1.0">300</text>
<text x="1335.7" y="1126.1" font-size="34.0" text-anchor="middle" letter-spacing="-1.0">0</text>
<text x="1463" y="1126.1" font-size="34.0" text-anchor="middle" letter-spacing="-1.0">100</text>
<text x="1586.9" y="1126.1" font-size="34.0" text-anchor="middle" letter-spacing="-1.0">200</text>
<text x="1712.8" y="1126.1" font-size="34.0" text-anchor="middle" letter-spacing="-1.0">300</text>
<text x="1528.8" y="1163.9" font-size="34.0" letter-spacing="-1.0" word-spacing="2"><tspan font-style="italic">x</tspan> (nm)</text>
<text x="1257.6" y="865.7" font-size="34.0" text-anchor="middle" transform="rotate(-90 1257.6 865.7)" word-spacing="2" letter-spacing="-1.0"><tspan font-style="italic">y</tspan> (nm)</text>
<rect x="106.8" y="1211.6" width="477.6" height="447.7" fill="#2b277c"/>
<path d="M187.0 1218.6V1659.3M114.8 1585.2H584.4M266.5 1218.6V1659.3M114.8 1510.6H584.4M346.0 1218.6V1659.3M114.8 1435.9H584.4M425.5 1218.6V1659.3M114.8 1361.2H584.4M505.0 1218.6V1659.3M114.8 1286.6H584.4" stroke="#8a8bd6" stroke-width="1.6" stroke-dasharray="1.6 12.05" fill="none"/>
<rect x="244.2" y="1431.8000000000002" width="8.2" height="8.2" fill="#2f3590"/>
<rect x="260.4" y="1431.8000000000002" width="8.2" height="8.2" fill="#4472c4"/>
<rect x="276.6" y="1431.8000000000002" width="8.2" height="8.2" fill="#5fcdf5"/>
<rect x="292.9" y="1431.8000000000002" width="8.2" height="8.2" fill="#fdb913"/>
<rect x="309.1" y="1431.8000000000002" width="8.2" height="8.2" fill="#e8181d"/>
<rect x="325.4" y="1431.8000000000002" width="8.2" height="8.2" fill="#bf2114"/>
<rect x="341.6" y="1431.8000000000002" width="8.2" height="8.2" fill="#a81c15"/>
<rect x="357.8" y="1431.8000000000002" width="8.2" height="8.2" fill="#bf2114"/>
<rect x="374.1" y="1431.8000000000002" width="8.2" height="8.2" fill="#e8181d"/>
<rect x="390.3" y="1431.8000000000002" width="8.2" height="8.2" fill="#fdb913"/>
<rect x="406.6" y="1431.8000000000002" width="8.2" height="8.2" fill="#5fcdf5"/>
<rect x="422.8" y="1431.8000000000002" width="8.2" height="8.2" fill="#4472c4"/>
<rect x="439.0" y="1431.8000000000002" width="8.2" height="8.2" fill="#2f3590"/>
<rect x="301.1" y="1431.8000000000002" width="8" height="8.2" fill="#3d57a8"/>
<rect x="317.3" y="1431.8000000000002" width="8" height="8.2" fill="#3d57a8"/>
<rect x="333.6" y="1431.8000000000002" width="8" height="8.2" fill="#3d57a8"/>
<rect x="349.8" y="1431.8000000000002" width="8" height="8.2" fill="#3d57a8"/>
<rect x="366.1" y="1431.8000000000002" width="8" height="8.2" fill="#3d57a8"/>
<rect x="382.3" y="1431.8000000000002" width="8" height="8.2" fill="#3d57a8"/>
<text x="97.5" y="1222.0" font-size="34.0" text-anchor="end" letter-spacing="-1.0">15</text>
<text x="97.5" y="1296.1" font-size="34.0" text-anchor="end" letter-spacing="-1.0">10</text>
<text x="97.5" y="1369.3" font-size="34.0" text-anchor="end" letter-spacing="-1.0">5</text>
<text x="97.5" y="1445.4" font-size="34.0" text-anchor="end" letter-spacing="-1.0">0</text>
<text x="97.5" y="1524.3" font-size="34.0" text-anchor="end" letter-spacing="-1.0">–5</text>
<text x="97.5" y="1594.1" font-size="34.0" text-anchor="end" letter-spacing="-1.0">–10</text>
<text x="97.5" y="1668.3" font-size="34.0" text-anchor="end" letter-spacing="-1.0">–15</text>
<text x="106.9" y="1693.9" font-size="34.0" text-anchor="middle" letter-spacing="-1.0">–15</text>
<text x="187.9" y="1693.9" font-size="34.0" text-anchor="middle" letter-spacing="-1.0">–10</text>
<text x="267.1" y="1693.9" font-size="34.0" text-anchor="middle" letter-spacing="-1.0">–5</text>
<text x="344.5" y="1693.9" font-size="34.0" text-anchor="middle" letter-spacing="-1.0">0</text>
<text x="425.6" y="1693.9" font-size="34.0" text-anchor="middle" letter-spacing="-1.0">5</text>
<text x="505.9" y="1693.9" font-size="34.0" text-anchor="middle" letter-spacing="-1.0">10</text>
<text x="582.5" y="1693.9" font-size="34.0" text-anchor="middle" letter-spacing="-1.0">15</text>
<text x="313.7" y="1730" font-size="34.0" letter-spacing="-0.4"><tspan font-style="italic">k</tspan><tspan font-size="23.5" dy="9.7">x</tspan><tspan dy="-9.7">/</tspan><tspan font-style="italic">k</tspan><tspan font-size="23.5" dy="9.7">0</tspan></text>
<text x="33" y="1476.5" font-size="34.0" transform="rotate(-90 33 1476.5)" letter-spacing="-0.4"><tspan font-style="italic">k</tspan><tspan font-size="23.5" dy="9.7">y</tspan><tspan dy="-9.7">/</tspan><tspan font-style="italic">k</tspan><tspan font-size="23.5" dy="9.7">0</tspan></text>
<rect x="700.3" y="1212.3" width="478.1" height="447.5" fill="#2b277c"/>
<path d="M779.9 1219.3V1659.8M708.3 1585.9H1178.4M859.6 1219.3V1659.8M708.3 1511.2H1178.4M939.4 1219.3V1659.8M708.3 1436.6H1178.4M1019.1 1219.3V1659.8M708.3 1361.9H1178.4M1098.9 1219.3V1659.8M708.3 1287.3H1178.4" stroke="#8a8bd6" stroke-width="1.6" stroke-dasharray="1.6 12.05" fill="none"/>
<rect x="899.6" y="1428.8" width="15.6" height="15.6" fill="#a3191a"/>
<rect x="963.8000000000001" y="1428.8" width="15.6" height="15.6" fill="#a3191a"/>
<text x="703.3" y="1692.9" font-size="34.0" text-anchor="middle" letter-spacing="-1.0">–15</text>
<text x="784.2" y="1692.9" font-size="34.0" text-anchor="middle" letter-spacing="-1.0">–10</text>
<text x="858.4" y="1692.9" font-size="34.0" text-anchor="middle" letter-spacing="-1.0">–5</text>
<text x="939.4" y="1692.9" font-size="34.0" text-anchor="middle" letter-spacing="-1.0">0</text>
<text x="1019.7" y="1692.9" font-size="34.0" text-anchor="middle" letter-spacing="-1.0">5</text>
<text x="1101.6" y="1692.9" font-size="34.0" text-anchor="middle" letter-spacing="-1.0">10</text>
<text x="1178.2" y="1692.9" font-size="34.0" text-anchor="middle" letter-spacing="-1.0">15</text>
<text x="909" y="1730" font-size="34.0" letter-spacing="-0.4"><tspan font-style="italic">k</tspan><tspan font-size="23.5" dy="9.7">x</tspan><tspan dy="-9.7">/</tspan><tspan font-style="italic">k</tspan><tspan font-size="23.5" dy="9.7">0</tspan></text>
<rect x="1310.8" y="1213.8" width="478.4" height="447.5" fill="#2b277c"/>
<path d="M1390.5 1220.8V1661.3M1318.8 1586.9H1789.2M1470.1 1220.8V1661.3M1318.8 1512.2H1789.2M1549.7 1220.8V1661.3M1318.8 1437.6H1789.2M1629.3 1220.8V1661.3M1318.8 1362.9H1789.2M1708.9 1220.8V1661.3M1318.8 1288.3H1789.2" stroke="#8a8bd6" stroke-width="1.6" stroke-dasharray="1.6 12.05" fill="none"/>
<rect x="1509.9" y="1429.8" width="15.6" height="15.6" fill="#a3191a"/>
<rect x="1574.5" y="1429.8" width="15.6" height="15.6" fill="#a3191a"/>
<text x="1311.4" y="1693.3" font-size="34.0" text-anchor="middle" letter-spacing="-1.0">–15</text>
<text x="1392.5" y="1693.3" font-size="34.0" text-anchor="middle" letter-spacing="-1.0">–10</text>
<text x="1467.2" y="1693.3" font-size="34.0" text-anchor="middle" letter-spacing="-1.0">–5</text>
<text x="1548" y="1693.3" font-size="34.0" text-anchor="middle" letter-spacing="-1.0">0</text>
<text x="1628.7" y="1693.3" font-size="34.0" text-anchor="middle" letter-spacing="-1.0">5</text>
<text x="1709.5" y="1693.3" font-size="34.0" text-anchor="middle" letter-spacing="-1.0">10</text>
<text x="1781.8" y="1693.3" font-size="34.0" text-anchor="middle" letter-spacing="-1.0">15</text>
<text x="1518.4" y="1729.7" font-size="34.0" letter-spacing="-0.4"><tspan font-style="italic">k</tspan><tspan font-size="23.5" dy="9.7">x</tspan><tspan dy="-9.7">/</tspan><tspan font-style="italic">k</tspan><tspan font-size="23.5" dy="9.7">0</tspan></text>
<rect x="1803.7" y="1259.9" width="27.9" height="349.3" fill="url(#jet)" stroke="#5a3a3a" stroke-width="0.8"/>
<path d="M1803.7 1294.8h4M1831.6 1294.8h-4M1803.7 1329.8h4M1831.6 1329.8h-4M1803.7 1364.7h4M1831.6 1364.7h-4M1803.7 1399.6h4M1831.6 1399.6h-4M1803.7 1434.6h4M1831.6 1434.6h-4M1803.7 1469.5h4M1831.6 1469.5h-4M1803.7 1504.4h4M1831.6 1504.4h-4M1803.7 1539.3h4M1831.6 1539.3h-4M1803.7 1574.3h4M1831.6 1574.3h-4" stroke="#222" stroke-opacity="0.4" stroke-width="1" fill="none"/>
<text x="1813.8" y="1242.4" font-size="34.0" text-anchor="middle" letter-spacing="-1.0">0</text>
<text x="1803" y="1643.9" font-size="34.0" letter-spacing="-1.0">–2</text>
<g clip-path="url(#hmclip)"><use href="#hmLay"/><use href="#hmTop"/><use href="#hmLines"/><path d="M706.3 434.5H1154.2" stroke="#fff" stroke-width="3" stroke-dasharray="17.5 20" stroke-dashoffset="10.05" fill="none"/></g>
<rect x="706.3" y="52.5" width="447.9" height="451.5" fill="none" stroke="#40403a" stroke-opacity="0.5" stroke-width="0.8"/>
<rect x="1167.6" y="118" width="23.2" height="344" fill="url(#jet)" stroke="#5a3a3a" stroke-width="0.8"/>
<path d="M1167.6 152.4h4M1190.8 152.4h-4M1167.6 186.8h4M1190.8 186.8h-4M1167.6 221.2h4M1190.8 221.2h-4M1167.6 255.6h4M1190.8 255.6h-4M1167.6 290.0h4M1190.8 290.0h-4M1167.6 324.4h4M1190.8 324.4h-4M1167.6 358.8h4M1190.8 358.8h-4M1167.6 393.2h4M1190.8 393.2h-4M1167.6 427.6h4M1190.8 427.6h-4" stroke="#222" stroke-opacity="0.4" stroke-width="1" fill="none"/>
<text x="1178.7" y="101.2" font-size="34.0" text-anchor="middle" letter-spacing="-1.0">0</text>
<text x="1158" y="491.7" font-size="34.0" letter-spacing="-1.0">–1.5</text>
<text x="692.8" y="64.7" font-size="34.0" text-anchor="end" letter-spacing="-1.0">0</text>
<text x="692.8" y="172.8" font-size="34.0" text-anchor="end" letter-spacing="-1.0">100</text>
<text x="692.8" y="276.8" font-size="34.0" text-anchor="end" letter-spacing="-1.0">200</text>
<text x="692.8" y="386.8" font-size="34.0" text-anchor="end" letter-spacing="-1.0">300</text>
<text x="692.8" y="486.1" font-size="34.0" text-anchor="end" letter-spacing="-1.0">400</text>
<text x="707.2" y="534.5" font-size="34.0" text-anchor="middle" letter-spacing="-1.0">0</text>
<text x="839.6" y="534.5" font-size="34.0" text-anchor="middle" letter-spacing="-1.0">100</text>
<text x="969.8" y="534.5" font-size="34.0" text-anchor="middle" letter-spacing="-1.0">200</text>
<text x="1089.2" y="534.5" font-size="34.0" text-anchor="middle" letter-spacing="-1.0">300</text>
<text x="899.4" y="571" font-size="34.0" letter-spacing="-1.0" word-spacing="2"><tspan font-style="italic">x</tspan> (nm)</text>
<text x="621.8" y="273.5" font-size="34.0" text-anchor="middle" transform="rotate(-90 621.8 273.5)" word-spacing="2.5" letter-spacing="-1.0"><tspan font-style="italic">z</tspan> (nm)</text>
<g transform="translate(707.0 648.0) scale(0.99687 0.99557) translate(-706.3 -52.5)"><g clip-path="url(#hmclip)"><g filter="url(#rough)"><use href="#hmLay"/></g><use href="#hmTop"/><g filter="url(#rough)"><path d="M706.3 203.4H924M937 203.4H1154.2M706.3 218.9H1154.2" stroke="#10201a" stroke-width="1.6" fill="none"/><path d="M706.3 203.2H1154.2" stroke="#2b277c" stroke-width="0" fill="none"/></g><use href="#hmLines"/><path d="M706.3 435.5H1154.2" stroke="#f4e8f2" stroke-width="3" stroke-dasharray="17.5 20" stroke-dashoffset="10.05" fill="none"/></g></g>
<rect x="707.0" y="648.0" width="446.5" height="449.5" fill="none" stroke="#40403a" stroke-opacity="0.5" stroke-width="0.8"/>
<rect x="1170.3" y="709.4" width="23.4" height="344.4" fill="url(#jet)" stroke="#5a3a3a" stroke-width="0.8"/>
<path d="M1170.3 743.8h4M1193.7 743.8h-4M1170.3 778.3h4M1193.7 778.3h-4M1170.3 812.7h4M1193.7 812.7h-4M1170.3 847.2h4M1193.7 847.2h-4M1170.3 881.6h4M1193.7 881.6h-4M1170.3 916.0h4M1193.7 916.0h-4M1170.3 950.5h4M1193.7 950.5h-4M1170.3 984.9h4M1193.7 984.9h-4M1170.3 1019.4h4M1193.7 1019.4h-4" stroke="#222" stroke-opacity="0.4" stroke-width="1" fill="none"/>
<text x="1182.2" y="693.4" font-size="34.0" text-anchor="middle" letter-spacing="-1.0">0</text>
<text x="1158.8" y="1081.6" font-size="34.0" letter-spacing="-1.0">–1.5</text>
<text x="695.9" y="662.0" font-size="34.0" text-anchor="end" letter-spacing="-1.0">0</text>
<text x="703.2" y="769.4" font-size="34.0" text-anchor="end" letter-spacing="-1.0">100</text>
<text x="703.2" y="873.3" font-size="34.0" text-anchor="end" letter-spacing="-1.0">200</text>
<text x="703.2" y="982.1" font-size="34.0" text-anchor="end" letter-spacing="-1.0">300</text>
<text x="703.2" y="1085.5" font-size="34.0" text-anchor="end" letter-spacing="-1.0">400</text>
<text x="710.7" y="1128" font-size="34.0" text-anchor="middle" letter-spacing="-1.0">0</text>
<text x="843.7" y="1128" font-size="34.0" text-anchor="middle" letter-spacing="-1.0">100</text>
<text x="973.3" y="1128" font-size="34.0" text-anchor="middle" letter-spacing="-1.0">200</text>
<text x="1091" y="1128" font-size="34.0" text-anchor="middle" letter-spacing="-1.0">300</text>
<text x="901" y="1166.3" font-size="34.0" letter-spacing="-1.0" word-spacing="2"><tspan font-style="italic">x</tspan> (nm)</text>
<text x="633.5" y="864.9" font-size="34.0" text-anchor="middle" transform="rotate(-90 633.5 864.9)" word-spacing="1.5" letter-spacing="-1.0"><tspan font-style="italic">z</tspan> (nm)</text>
</svg>
</body></html>
